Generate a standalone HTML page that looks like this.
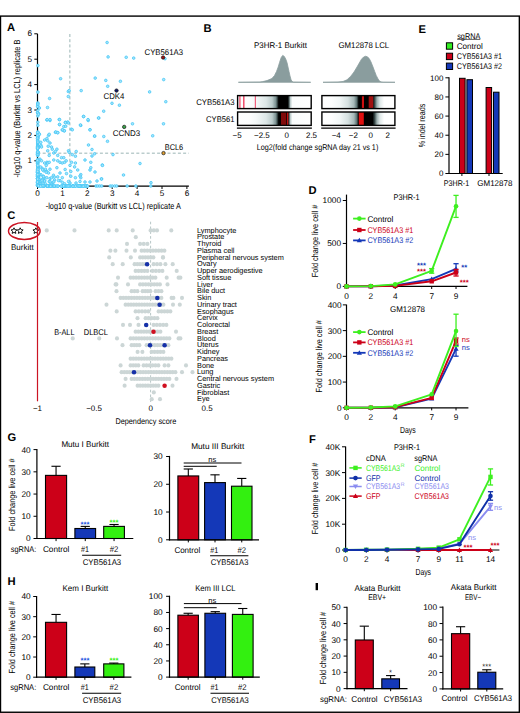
<!DOCTYPE html>
<html><head><meta charset="utf-8"><title>Figure</title>
<style>
html,body{margin:0;padding:0;background:#fff;}
svg{display:block;}
text{font-family:"Liberation Sans",sans-serif;text-rendering:geometricPrecision;}
</style></head><body>
<svg width="520" height="713" viewBox="0 0 520 713">
<rect x="0" y="0" width="520" height="713" fill="#fff"/>
<rect x="0.5" y="16.1" width="518.85" height="696.15" fill="none" stroke="#000" stroke-width="1.4"/>
<text x="7.00" y="31.26" font-size="11.2" font-weight="bold" fill="#000">A</text>
<text x="203.60" y="32.36" font-size="11.2" font-weight="bold" fill="#000">B</text>
<text x="7.20" y="218.96" font-size="11.2" font-weight="bold" fill="#000">C</text>
<text x="308.40" y="194.46" font-size="11.2" font-weight="bold" fill="#000">D</text>
<text x="418.60" y="32.66" font-size="11.2" font-weight="bold" fill="#000">E</text>
<text x="309.00" y="442.76" font-size="11.2" font-weight="bold" fill="#000">F</text>
<text x="7.60" y="440.76" font-size="11.2" font-weight="bold" fill="#000">G</text>
<text x="7.60" y="585.46" font-size="11.2" font-weight="bold" fill="#000">H</text>
<rect x="315.6" y="583" width="2.4" height="7.2" fill="#000"/>
<line x1="69.87" y1="34.00" x2="69.87" y2="186.00" stroke="#8fadad" stroke-width="0.9" stroke-dasharray="3,2.2"/>
<line x1="37.50" y1="153.18" x2="188.80" y2="153.18" stroke="#8fadad" stroke-width="0.9" stroke-dasharray="3,2.2"/>
<line x1="37.50" y1="33.80" x2="37.50" y2="186.80" stroke="#000" stroke-width="1.2" />
<line x1="36.90" y1="186.20" x2="188.90" y2="186.20" stroke="#000" stroke-width="1.2" />
<line x1="34.30" y1="160.80" x2="37.50" y2="160.80" stroke="#000" stroke-width="1.0" />
<text x="32.00" y="163.35" font-size="8.19" text-anchor="end">1</text>
<line x1="34.30" y1="135.40" x2="37.50" y2="135.40" stroke="#000" stroke-width="1.0" />
<text x="32.00" y="137.95" font-size="8.19" text-anchor="end">2</text>
<line x1="34.30" y1="110.00" x2="37.50" y2="110.00" stroke="#000" stroke-width="1.0" />
<text x="32.00" y="112.55" font-size="8.19" text-anchor="end">3</text>
<line x1="34.30" y1="84.60" x2="37.50" y2="84.60" stroke="#000" stroke-width="1.0" />
<text x="32.00" y="87.15" font-size="8.19" text-anchor="end">4</text>
<line x1="34.30" y1="59.20" x2="37.50" y2="59.20" stroke="#000" stroke-width="1.0" />
<text x="32.00" y="61.75" font-size="8.19" text-anchor="end">5</text>
<line x1="34.30" y1="33.80" x2="37.50" y2="33.80" stroke="#000" stroke-width="1.0" />
<text x="32.00" y="36.35" font-size="8.19" text-anchor="end">6</text>
<line x1="37.50" y1="186.20" x2="37.50" y2="189.00" stroke="#000" stroke-width="1.0" />
<text x="37.50" y="195.95" font-size="8.19" text-anchor="middle">0</text>
<line x1="62.40" y1="186.20" x2="62.40" y2="189.00" stroke="#000" stroke-width="1.0" />
<text x="62.40" y="195.95" font-size="8.19" text-anchor="middle">1</text>
<line x1="87.30" y1="186.20" x2="87.30" y2="189.00" stroke="#000" stroke-width="1.0" />
<text x="87.30" y="195.95" font-size="8.19" text-anchor="middle">2</text>
<line x1="112.20" y1="186.20" x2="112.20" y2="189.00" stroke="#000" stroke-width="1.0" />
<text x="112.20" y="195.95" font-size="8.19" text-anchor="middle">3</text>
<line x1="137.10" y1="186.20" x2="137.10" y2="189.00" stroke="#000" stroke-width="1.0" />
<text x="137.10" y="195.95" font-size="8.19" text-anchor="middle">4</text>
<line x1="162.00" y1="186.20" x2="162.00" y2="189.00" stroke="#000" stroke-width="1.0" />
<text x="162.00" y="195.95" font-size="8.19" text-anchor="middle">5</text>
<line x1="186.90" y1="186.20" x2="186.90" y2="189.00" stroke="#000" stroke-width="1.0" />
<text x="186.90" y="195.95" font-size="8.19" text-anchor="middle">6</text>
<text x="45.80" y="209.38" font-size="8.82" textLength="135" lengthAdjust="spacingAndGlyphs">-log10 q-value (Burkitt vs LCL) replicate A</text>
<text transform="translate(16.80,108.50) rotate(-90)" x="0" y="3.18" font-size="8.82" text-anchor="middle" textLength="138" lengthAdjust="spacingAndGlyphs">-log10 q-value (Burkitt vs LCL) replicate B</text>
<circle cx="38.50" cy="113.80" r="1.3" fill="#a6e5fa" stroke="#45c8f7" stroke-width="0.8"/>
<circle cx="46.90" cy="120.00" r="1.3" fill="#a6e5fa" stroke="#45c8f7" stroke-width="0.8"/>
<circle cx="50.00" cy="120.50" r="1.3" fill="#a6e5fa" stroke="#45c8f7" stroke-width="0.8"/>
<circle cx="59.20" cy="119.50" r="1.3" fill="#a6e5fa" stroke="#45c8f7" stroke-width="0.8"/>
<circle cx="59.50" cy="124.60" r="1.3" fill="#a6e5fa" stroke="#45c8f7" stroke-width="0.8"/>
<circle cx="65.40" cy="122.30" r="1.3" fill="#a6e5fa" stroke="#45c8f7" stroke-width="0.8"/>
<circle cx="67.70" cy="122.00" r="1.3" fill="#a6e5fa" stroke="#45c8f7" stroke-width="0.8"/>
<circle cx="63.80" cy="126.60" r="1.3" fill="#a6e5fa" stroke="#45c8f7" stroke-width="0.8"/>
<circle cx="65.70" cy="126.20" r="1.3" fill="#a6e5fa" stroke="#45c8f7" stroke-width="0.8"/>
<circle cx="62.30" cy="130.00" r="1.3" fill="#a6e5fa" stroke="#45c8f7" stroke-width="0.8"/>
<circle cx="64.20" cy="130.80" r="1.3" fill="#a6e5fa" stroke="#45c8f7" stroke-width="0.8"/>
<circle cx="55.40" cy="132.30" r="1.3" fill="#a6e5fa" stroke="#45c8f7" stroke-width="0.8"/>
<circle cx="57.70" cy="132.60" r="1.3" fill="#a6e5fa" stroke="#45c8f7" stroke-width="0.8"/>
<circle cx="71.50" cy="129.20" r="1.3" fill="#a6e5fa" stroke="#45c8f7" stroke-width="0.8"/>
<circle cx="80.80" cy="125.40" r="1.3" fill="#a6e5fa" stroke="#45c8f7" stroke-width="0.8"/>
<circle cx="83.50" cy="116.50" r="1.3" fill="#a6e5fa" stroke="#45c8f7" stroke-width="0.8"/>
<circle cx="88.20" cy="120.50" r="1.3" fill="#a6e5fa" stroke="#45c8f7" stroke-width="0.8"/>
<circle cx="98.80" cy="118.00" r="1.3" fill="#a6e5fa" stroke="#45c8f7" stroke-width="0.8"/>
<circle cx="90.00" cy="129.70" r="1.3" fill="#a6e5fa" stroke="#45c8f7" stroke-width="0.8"/>
<circle cx="94.60" cy="136.20" r="1.3" fill="#a6e5fa" stroke="#45c8f7" stroke-width="0.8"/>
<circle cx="39.20" cy="134.30" r="1.3" fill="#a6e5fa" stroke="#45c8f7" stroke-width="0.8"/>
<circle cx="40.80" cy="142.30" r="1.3" fill="#a6e5fa" stroke="#45c8f7" stroke-width="0.8"/>
<circle cx="41.00" cy="145.40" r="1.3" fill="#a6e5fa" stroke="#45c8f7" stroke-width="0.8"/>
<circle cx="41.50" cy="147.00" r="1.3" fill="#a6e5fa" stroke="#45c8f7" stroke-width="0.8"/>
<circle cx="44.60" cy="140.00" r="1.3" fill="#a6e5fa" stroke="#45c8f7" stroke-width="0.8"/>
<circle cx="46.90" cy="138.50" r="1.3" fill="#a6e5fa" stroke="#45c8f7" stroke-width="0.8"/>
<circle cx="48.50" cy="135.40" r="1.3" fill="#a6e5fa" stroke="#45c8f7" stroke-width="0.8"/>
<circle cx="49.20" cy="134.30" r="1.3" fill="#a6e5fa" stroke="#45c8f7" stroke-width="0.8"/>
<circle cx="47.70" cy="140.80" r="1.3" fill="#a6e5fa" stroke="#45c8f7" stroke-width="0.8"/>
<circle cx="50.00" cy="143.00" r="1.3" fill="#a6e5fa" stroke="#45c8f7" stroke-width="0.8"/>
<circle cx="48.20" cy="146.20" r="1.3" fill="#a6e5fa" stroke="#45c8f7" stroke-width="0.8"/>
<circle cx="51.50" cy="147.00" r="1.3" fill="#a6e5fa" stroke="#45c8f7" stroke-width="0.8"/>
<circle cx="52.30" cy="149.20" r="1.3" fill="#a6e5fa" stroke="#45c8f7" stroke-width="0.8"/>
<circle cx="47.70" cy="150.80" r="1.3" fill="#a6e5fa" stroke="#45c8f7" stroke-width="0.8"/>
<circle cx="49.20" cy="155.40" r="1.3" fill="#a6e5fa" stroke="#45c8f7" stroke-width="0.8"/>
<circle cx="53.80" cy="153.00" r="1.3" fill="#a6e5fa" stroke="#45c8f7" stroke-width="0.8"/>
<circle cx="55.40" cy="151.50" r="1.3" fill="#a6e5fa" stroke="#45c8f7" stroke-width="0.8"/>
<circle cx="56.90" cy="149.20" r="1.3" fill="#a6e5fa" stroke="#45c8f7" stroke-width="0.8"/>
<circle cx="57.70" cy="155.40" r="1.3" fill="#a6e5fa" stroke="#45c8f7" stroke-width="0.8"/>
<circle cx="61.50" cy="157.70" r="1.3" fill="#a6e5fa" stroke="#45c8f7" stroke-width="0.8"/>
<circle cx="68.50" cy="150.80" r="1.3" fill="#a6e5fa" stroke="#45c8f7" stroke-width="0.8"/>
<circle cx="69.20" cy="152.30" r="1.3" fill="#a6e5fa" stroke="#45c8f7" stroke-width="0.8"/>
<circle cx="72.30" cy="154.60" r="1.3" fill="#a6e5fa" stroke="#45c8f7" stroke-width="0.8"/>
<circle cx="76.20" cy="151.50" r="1.3" fill="#a6e5fa" stroke="#45c8f7" stroke-width="0.8"/>
<circle cx="75.40" cy="156.20" r="1.3" fill="#a6e5fa" stroke="#45c8f7" stroke-width="0.8"/>
<circle cx="94.60" cy="153.80" r="1.3" fill="#a6e5fa" stroke="#45c8f7" stroke-width="0.8"/>
<circle cx="40.00" cy="159.20" r="1.3" fill="#a6e5fa" stroke="#45c8f7" stroke-width="0.8"/>
<circle cx="41.50" cy="160.80" r="1.3" fill="#a6e5fa" stroke="#45c8f7" stroke-width="0.8"/>
<circle cx="44.60" cy="163.00" r="1.3" fill="#a6e5fa" stroke="#45c8f7" stroke-width="0.8"/>
<circle cx="46.20" cy="165.40" r="1.3" fill="#a6e5fa" stroke="#45c8f7" stroke-width="0.8"/>
<circle cx="46.90" cy="162.30" r="1.3" fill="#a6e5fa" stroke="#45c8f7" stroke-width="0.8"/>
<circle cx="47.70" cy="163.00" r="1.3" fill="#a6e5fa" stroke="#45c8f7" stroke-width="0.8"/>
<circle cx="49.20" cy="162.30" r="1.3" fill="#a6e5fa" stroke="#45c8f7" stroke-width="0.8"/>
<circle cx="53.80" cy="160.00" r="1.3" fill="#a6e5fa" stroke="#45c8f7" stroke-width="0.8"/>
<circle cx="57.70" cy="160.80" r="1.3" fill="#a6e5fa" stroke="#45c8f7" stroke-width="0.8"/>
<circle cx="60.00" cy="162.30" r="1.3" fill="#a6e5fa" stroke="#45c8f7" stroke-width="0.8"/>
<circle cx="62.30" cy="163.00" r="1.3" fill="#a6e5fa" stroke="#45c8f7" stroke-width="0.8"/>
<circle cx="64.60" cy="162.30" r="1.3" fill="#a6e5fa" stroke="#45c8f7" stroke-width="0.8"/>
<circle cx="66.20" cy="160.80" r="1.3" fill="#a6e5fa" stroke="#45c8f7" stroke-width="0.8"/>
<circle cx="63.80" cy="157.70" r="1.3" fill="#a6e5fa" stroke="#45c8f7" stroke-width="0.8"/>
<circle cx="70.00" cy="165.40" r="1.3" fill="#a6e5fa" stroke="#45c8f7" stroke-width="0.8"/>
<circle cx="71.50" cy="162.30" r="1.3" fill="#a6e5fa" stroke="#45c8f7" stroke-width="0.8"/>
<circle cx="74.60" cy="166.90" r="1.3" fill="#a6e5fa" stroke="#45c8f7" stroke-width="0.8"/>
<circle cx="75.40" cy="163.00" r="1.3" fill="#a6e5fa" stroke="#45c8f7" stroke-width="0.8"/>
<circle cx="56.90" cy="167.70" r="1.3" fill="#a6e5fa" stroke="#45c8f7" stroke-width="0.8"/>
<circle cx="90.80" cy="162.30" r="1.3" fill="#a6e5fa" stroke="#45c8f7" stroke-width="0.8"/>
<circle cx="90.80" cy="167.70" r="1.3" fill="#a6e5fa" stroke="#45c8f7" stroke-width="0.8"/>
<circle cx="102.30" cy="165.00" r="1.3" fill="#a6e5fa" stroke="#45c8f7" stroke-width="0.8"/>
<circle cx="42.30" cy="168.50" r="1.3" fill="#a6e5fa" stroke="#45c8f7" stroke-width="0.8"/>
<circle cx="43.80" cy="170.80" r="1.3" fill="#a6e5fa" stroke="#45c8f7" stroke-width="0.8"/>
<circle cx="45.40" cy="169.20" r="1.3" fill="#a6e5fa" stroke="#45c8f7" stroke-width="0.8"/>
<circle cx="46.90" cy="171.50" r="1.3" fill="#a6e5fa" stroke="#45c8f7" stroke-width="0.8"/>
<circle cx="48.50" cy="173.00" r="1.3" fill="#a6e5fa" stroke="#45c8f7" stroke-width="0.8"/>
<circle cx="40.80" cy="174.60" r="1.3" fill="#a6e5fa" stroke="#45c8f7" stroke-width="0.8"/>
<circle cx="43.10" cy="176.20" r="1.3" fill="#a6e5fa" stroke="#45c8f7" stroke-width="0.8"/>
<circle cx="50.00" cy="169.20" r="1.3" fill="#a6e5fa" stroke="#45c8f7" stroke-width="0.8"/>
<circle cx="60.00" cy="173.00" r="1.3" fill="#a6e5fa" stroke="#45c8f7" stroke-width="0.8"/>
<circle cx="57.70" cy="176.90" r="1.3" fill="#a6e5fa" stroke="#45c8f7" stroke-width="0.8"/>
<circle cx="62.30" cy="177.70" r="1.3" fill="#a6e5fa" stroke="#45c8f7" stroke-width="0.8"/>
<circle cx="70.80" cy="171.50" r="1.3" fill="#a6e5fa" stroke="#45c8f7" stroke-width="0.8"/>
<circle cx="70.80" cy="176.20" r="1.3" fill="#a6e5fa" stroke="#45c8f7" stroke-width="0.8"/>
<circle cx="75.40" cy="177.70" r="1.3" fill="#a6e5fa" stroke="#45c8f7" stroke-width="0.8"/>
<circle cx="77.70" cy="170.00" r="1.3" fill="#a6e5fa" stroke="#45c8f7" stroke-width="0.8"/>
<circle cx="80.80" cy="174.60" r="1.3" fill="#a6e5fa" stroke="#45c8f7" stroke-width="0.8"/>
<circle cx="80.80" cy="177.70" r="1.3" fill="#a6e5fa" stroke="#45c8f7" stroke-width="0.8"/>
<circle cx="80.00" cy="181.50" r="1.3" fill="#a6e5fa" stroke="#45c8f7" stroke-width="0.8"/>
<circle cx="40.00" cy="180.00" r="1.3" fill="#a6e5fa" stroke="#45c8f7" stroke-width="0.8"/>
<circle cx="42.30" cy="182.30" r="1.3" fill="#a6e5fa" stroke="#45c8f7" stroke-width="0.8"/>
<circle cx="44.60" cy="180.80" r="1.3" fill="#a6e5fa" stroke="#45c8f7" stroke-width="0.8"/>
<circle cx="45.40" cy="183.80" r="1.3" fill="#a6e5fa" stroke="#45c8f7" stroke-width="0.8"/>
<circle cx="49.20" cy="181.50" r="1.3" fill="#a6e5fa" stroke="#45c8f7" stroke-width="0.8"/>
<circle cx="53.10" cy="182.30" r="1.3" fill="#a6e5fa" stroke="#45c8f7" stroke-width="0.8"/>
<circle cx="54.60" cy="180.00" r="1.3" fill="#a6e5fa" stroke="#45c8f7" stroke-width="0.8"/>
<circle cx="50.00" cy="178.50" r="1.3" fill="#a6e5fa" stroke="#45c8f7" stroke-width="0.8"/>
<circle cx="51.50" cy="177.70" r="1.3" fill="#a6e5fa" stroke="#45c8f7" stroke-width="0.8"/>
<circle cx="62.30" cy="182.30" r="1.3" fill="#a6e5fa" stroke="#45c8f7" stroke-width="0.8"/>
<circle cx="64.60" cy="183.80" r="1.3" fill="#a6e5fa" stroke="#45c8f7" stroke-width="0.8"/>
<circle cx="68.50" cy="181.50" r="1.3" fill="#a6e5fa" stroke="#45c8f7" stroke-width="0.8"/>
<circle cx="70.00" cy="183.00" r="1.3" fill="#a6e5fa" stroke="#45c8f7" stroke-width="0.8"/>
<circle cx="101.50" cy="178.90" r="1.3" fill="#a6e5fa" stroke="#45c8f7" stroke-width="0.8"/>
<circle cx="90.00" cy="182.00" r="1.3" fill="#a6e5fa" stroke="#45c8f7" stroke-width="0.8"/>
<circle cx="42.75" cy="178.91" r="1.3" fill="#a6e5fa" stroke="#45c8f7" stroke-width="0.8"/>
<circle cx="59.98" cy="180.63" r="1.3" fill="#a6e5fa" stroke="#45c8f7" stroke-width="0.8"/>
<circle cx="43.68" cy="178.33" r="1.3" fill="#a6e5fa" stroke="#45c8f7" stroke-width="0.8"/>
<circle cx="39.28" cy="179.82" r="1.3" fill="#a6e5fa" stroke="#45c8f7" stroke-width="0.8"/>
<circle cx="46.16" cy="172.20" r="1.3" fill="#a6e5fa" stroke="#45c8f7" stroke-width="0.8"/>
<circle cx="38.36" cy="182.99" r="1.3" fill="#a6e5fa" stroke="#45c8f7" stroke-width="0.8"/>
<circle cx="38.33" cy="171.45" r="1.3" fill="#a6e5fa" stroke="#45c8f7" stroke-width="0.8"/>
<circle cx="47.80" cy="185.82" r="1.3" fill="#a6e5fa" stroke="#45c8f7" stroke-width="0.8"/>
<circle cx="46.75" cy="177.70" r="1.3" fill="#a6e5fa" stroke="#45c8f7" stroke-width="0.8"/>
<circle cx="38.99" cy="186.07" r="1.3" fill="#a6e5fa" stroke="#45c8f7" stroke-width="0.8"/>
<circle cx="44.05" cy="185.65" r="1.3" fill="#a6e5fa" stroke="#45c8f7" stroke-width="0.8"/>
<circle cx="39.34" cy="183.74" r="1.3" fill="#a6e5fa" stroke="#45c8f7" stroke-width="0.8"/>
<circle cx="37.77" cy="180.66" r="1.3" fill="#a6e5fa" stroke="#45c8f7" stroke-width="0.8"/>
<circle cx="42.56" cy="169.77" r="1.3" fill="#a6e5fa" stroke="#45c8f7" stroke-width="0.8"/>
<circle cx="43.88" cy="177.11" r="1.3" fill="#a6e5fa" stroke="#45c8f7" stroke-width="0.8"/>
<circle cx="43.54" cy="176.55" r="1.3" fill="#a6e5fa" stroke="#45c8f7" stroke-width="0.8"/>
<circle cx="42.83" cy="183.30" r="1.3" fill="#a6e5fa" stroke="#45c8f7" stroke-width="0.8"/>
<circle cx="53.48" cy="175.26" r="1.3" fill="#a6e5fa" stroke="#45c8f7" stroke-width="0.8"/>
<circle cx="40.80" cy="183.88" r="1.3" fill="#a6e5fa" stroke="#45c8f7" stroke-width="0.8"/>
<circle cx="40.47" cy="185.55" r="1.3" fill="#a6e5fa" stroke="#45c8f7" stroke-width="0.8"/>
<circle cx="50.17" cy="181.65" r="1.3" fill="#a6e5fa" stroke="#45c8f7" stroke-width="0.8"/>
<circle cx="53.84" cy="181.86" r="1.3" fill="#a6e5fa" stroke="#45c8f7" stroke-width="0.8"/>
<circle cx="65.14" cy="169.49" r="1.3" fill="#a6e5fa" stroke="#45c8f7" stroke-width="0.8"/>
<circle cx="37.50" cy="184.11" r="1.3" fill="#a6e5fa" stroke="#45c8f7" stroke-width="0.8"/>
<circle cx="58.51" cy="180.56" r="1.3" fill="#a6e5fa" stroke="#45c8f7" stroke-width="0.8"/>
<circle cx="38.16" cy="177.37" r="1.3" fill="#a6e5fa" stroke="#45c8f7" stroke-width="0.8"/>
<circle cx="50.64" cy="183.40" r="1.3" fill="#a6e5fa" stroke="#45c8f7" stroke-width="0.8"/>
<circle cx="38.29" cy="182.61" r="1.3" fill="#a6e5fa" stroke="#45c8f7" stroke-width="0.8"/>
<circle cx="66.49" cy="173.59" r="1.3" fill="#a6e5fa" stroke="#45c8f7" stroke-width="0.8"/>
<circle cx="38.59" cy="183.69" r="1.3" fill="#a6e5fa" stroke="#45c8f7" stroke-width="0.8"/>
<circle cx="38.43" cy="185.65" r="1.3" fill="#a6e5fa" stroke="#45c8f7" stroke-width="0.8"/>
<circle cx="51.40" cy="184.46" r="1.3" fill="#a6e5fa" stroke="#45c8f7" stroke-width="0.8"/>
<circle cx="44.64" cy="180.93" r="1.3" fill="#a6e5fa" stroke="#45c8f7" stroke-width="0.8"/>
<circle cx="39.34" cy="174.50" r="1.3" fill="#a6e5fa" stroke="#45c8f7" stroke-width="0.8"/>
<circle cx="38.72" cy="177.03" r="1.3" fill="#a6e5fa" stroke="#45c8f7" stroke-width="0.8"/>
<circle cx="38.58" cy="181.35" r="1.3" fill="#a6e5fa" stroke="#45c8f7" stroke-width="0.8"/>
<circle cx="39.59" cy="183.40" r="1.3" fill="#a6e5fa" stroke="#45c8f7" stroke-width="0.8"/>
<circle cx="40.66" cy="166.98" r="1.3" fill="#a6e5fa" stroke="#45c8f7" stroke-width="0.8"/>
<circle cx="39.56" cy="181.74" r="1.3" fill="#a6e5fa" stroke="#45c8f7" stroke-width="0.8"/>
<circle cx="54.29" cy="177.07" r="1.3" fill="#a6e5fa" stroke="#45c8f7" stroke-width="0.8"/>
<circle cx="37.57" cy="174.55" r="1.3" fill="#a6e5fa" stroke="#45c8f7" stroke-width="0.8"/>
<circle cx="37.60" cy="144.00" r="1.3" fill="#a6e5fa" stroke="#45c8f7" stroke-width="0.8"/>
<circle cx="37.48" cy="170.02" r="1.3" fill="#a6e5fa" stroke="#45c8f7" stroke-width="0.8"/>
<circle cx="37.71" cy="181.28" r="1.3" fill="#a6e5fa" stroke="#45c8f7" stroke-width="0.8"/>
<circle cx="37.72" cy="172.93" r="1.3" fill="#a6e5fa" stroke="#45c8f7" stroke-width="0.8"/>
<circle cx="37.65" cy="165.90" r="1.3" fill="#a6e5fa" stroke="#45c8f7" stroke-width="0.8"/>
<circle cx="37.67" cy="133.82" r="1.3" fill="#a6e5fa" stroke="#45c8f7" stroke-width="0.8"/>
<circle cx="37.84" cy="154.82" r="1.3" fill="#a6e5fa" stroke="#45c8f7" stroke-width="0.8"/>
<circle cx="37.52" cy="176.22" r="1.3" fill="#a6e5fa" stroke="#45c8f7" stroke-width="0.8"/>
<circle cx="37.82" cy="136.59" r="1.3" fill="#a6e5fa" stroke="#45c8f7" stroke-width="0.8"/>
<circle cx="37.54" cy="172.57" r="1.3" fill="#a6e5fa" stroke="#45c8f7" stroke-width="0.8"/>
<circle cx="37.87" cy="145.82" r="1.3" fill="#a6e5fa" stroke="#45c8f7" stroke-width="0.8"/>
<circle cx="37.88" cy="175.46" r="1.3" fill="#a6e5fa" stroke="#45c8f7" stroke-width="0.8"/>
<circle cx="37.72" cy="138.02" r="1.3" fill="#a6e5fa" stroke="#45c8f7" stroke-width="0.8"/>
<circle cx="37.50" cy="163.18" r="1.3" fill="#a6e5fa" stroke="#45c8f7" stroke-width="0.8"/>
<circle cx="37.88" cy="184.09" r="1.3" fill="#a6e5fa" stroke="#45c8f7" stroke-width="0.8"/>
<circle cx="37.77" cy="173.18" r="1.3" fill="#a6e5fa" stroke="#45c8f7" stroke-width="0.8"/>
<circle cx="37.82" cy="172.17" r="1.3" fill="#a6e5fa" stroke="#45c8f7" stroke-width="0.8"/>
<circle cx="37.58" cy="153.63" r="1.3" fill="#a6e5fa" stroke="#45c8f7" stroke-width="0.8"/>
<circle cx="37.77" cy="176.62" r="1.3" fill="#a6e5fa" stroke="#45c8f7" stroke-width="0.8"/>
<circle cx="37.55" cy="182.44" r="1.3" fill="#a6e5fa" stroke="#45c8f7" stroke-width="0.8"/>
<circle cx="37.83" cy="155.65" r="1.3" fill="#a6e5fa" stroke="#45c8f7" stroke-width="0.8"/>
<circle cx="37.58" cy="152.65" r="1.3" fill="#a6e5fa" stroke="#45c8f7" stroke-width="0.8"/>
<circle cx="37.54" cy="136.10" r="1.3" fill="#a6e5fa" stroke="#45c8f7" stroke-width="0.8"/>
<circle cx="37.57" cy="185.29" r="1.3" fill="#a6e5fa" stroke="#45c8f7" stroke-width="0.8"/>
<circle cx="37.48" cy="161.86" r="1.3" fill="#a6e5fa" stroke="#45c8f7" stroke-width="0.8"/>
<circle cx="37.62" cy="176.57" r="1.3" fill="#a6e5fa" stroke="#45c8f7" stroke-width="0.8"/>
<circle cx="37.51" cy="154.95" r="1.3" fill="#a6e5fa" stroke="#45c8f7" stroke-width="0.8"/>
<circle cx="37.85" cy="166.42" r="1.3" fill="#a6e5fa" stroke="#45c8f7" stroke-width="0.8"/>
<circle cx="37.75" cy="132.66" r="1.3" fill="#a6e5fa" stroke="#45c8f7" stroke-width="0.8"/>
<circle cx="37.71" cy="148.45" r="1.3" fill="#a6e5fa" stroke="#45c8f7" stroke-width="0.8"/>
<circle cx="37.47" cy="178.54" r="1.3" fill="#a6e5fa" stroke="#45c8f7" stroke-width="0.8"/>
<circle cx="37.86" cy="185.22" r="1.3" fill="#a6e5fa" stroke="#45c8f7" stroke-width="0.8"/>
<circle cx="37.88" cy="147.92" r="1.3" fill="#a6e5fa" stroke="#45c8f7" stroke-width="0.8"/>
<circle cx="37.74" cy="185.04" r="1.3" fill="#a6e5fa" stroke="#45c8f7" stroke-width="0.8"/>
<circle cx="37.78" cy="159.87" r="1.3" fill="#a6e5fa" stroke="#45c8f7" stroke-width="0.8"/>
<circle cx="37.90" cy="168.78" r="1.3" fill="#a6e5fa" stroke="#45c8f7" stroke-width="0.8"/>
<circle cx="37.70" cy="182.09" r="1.3" fill="#a6e5fa" stroke="#45c8f7" stroke-width="0.8"/>
<circle cx="37.86" cy="145.95" r="1.3" fill="#a6e5fa" stroke="#45c8f7" stroke-width="0.8"/>
<circle cx="37.77" cy="145.95" r="1.3" fill="#a6e5fa" stroke="#45c8f7" stroke-width="0.8"/>
<circle cx="37.86" cy="142.88" r="1.3" fill="#a6e5fa" stroke="#45c8f7" stroke-width="0.8"/>
<circle cx="37.76" cy="166.99" r="1.3" fill="#a6e5fa" stroke="#45c8f7" stroke-width="0.8"/>
<circle cx="37.84" cy="137.01" r="1.3" fill="#a6e5fa" stroke="#45c8f7" stroke-width="0.8"/>
<circle cx="37.81" cy="163.42" r="1.3" fill="#a6e5fa" stroke="#45c8f7" stroke-width="0.8"/>
<circle cx="37.71" cy="139.05" r="1.3" fill="#a6e5fa" stroke="#45c8f7" stroke-width="0.8"/>
<circle cx="37.62" cy="152.07" r="1.3" fill="#a6e5fa" stroke="#45c8f7" stroke-width="0.8"/>
<circle cx="37.72" cy="154.38" r="1.3" fill="#a6e5fa" stroke="#45c8f7" stroke-width="0.8"/>
<circle cx="37.74" cy="181.82" r="1.3" fill="#a6e5fa" stroke="#45c8f7" stroke-width="0.8"/>
<circle cx="37.85" cy="131.95" r="1.3" fill="#a6e5fa" stroke="#45c8f7" stroke-width="0.8"/>
<circle cx="37.62" cy="146.43" r="1.3" fill="#a6e5fa" stroke="#45c8f7" stroke-width="0.8"/>
<circle cx="37.71" cy="146.06" r="1.3" fill="#a6e5fa" stroke="#45c8f7" stroke-width="0.8"/>
<circle cx="37.83" cy="162.14" r="1.3" fill="#a6e5fa" stroke="#45c8f7" stroke-width="0.8"/>
<circle cx="37.79" cy="181.62" r="1.3" fill="#a6e5fa" stroke="#45c8f7" stroke-width="0.8"/>
<circle cx="37.72" cy="184.57" r="1.3" fill="#a6e5fa" stroke="#45c8f7" stroke-width="0.8"/>
<circle cx="37.55" cy="159.93" r="1.3" fill="#a6e5fa" stroke="#45c8f7" stroke-width="0.8"/>
<circle cx="37.67" cy="148.06" r="1.3" fill="#a6e5fa" stroke="#45c8f7" stroke-width="0.8"/>
<circle cx="37.86" cy="152.64" r="1.3" fill="#a6e5fa" stroke="#45c8f7" stroke-width="0.8"/>
<circle cx="37.46" cy="172.23" r="1.3" fill="#a6e5fa" stroke="#45c8f7" stroke-width="0.8"/>
<circle cx="37.76" cy="169.76" r="1.3" fill="#a6e5fa" stroke="#45c8f7" stroke-width="0.8"/>
<circle cx="37.53" cy="175.14" r="1.3" fill="#a6e5fa" stroke="#45c8f7" stroke-width="0.8"/>
<circle cx="37.75" cy="136.74" r="1.3" fill="#a6e5fa" stroke="#45c8f7" stroke-width="0.8"/>
<circle cx="37.85" cy="162.07" r="1.3" fill="#a6e5fa" stroke="#45c8f7" stroke-width="0.8"/>
<circle cx="37.75" cy="168.34" r="1.3" fill="#a6e5fa" stroke="#45c8f7" stroke-width="0.8"/>
<circle cx="37.64" cy="175.36" r="1.3" fill="#a6e5fa" stroke="#45c8f7" stroke-width="0.8"/>
<circle cx="37.86" cy="142.18" r="1.3" fill="#a6e5fa" stroke="#45c8f7" stroke-width="0.8"/>
<circle cx="37.62" cy="138.13" r="1.3" fill="#a6e5fa" stroke="#45c8f7" stroke-width="0.8"/>
<circle cx="37.59" cy="154.36" r="1.3" fill="#a6e5fa" stroke="#45c8f7" stroke-width="0.8"/>
<circle cx="37.67" cy="178.76" r="1.3" fill="#a6e5fa" stroke="#45c8f7" stroke-width="0.8"/>
<circle cx="37.83" cy="140.49" r="1.3" fill="#a6e5fa" stroke="#45c8f7" stroke-width="0.8"/>
<circle cx="37.88" cy="147.36" r="1.3" fill="#a6e5fa" stroke="#45c8f7" stroke-width="0.8"/>
<circle cx="37.53" cy="171.08" r="1.3" fill="#a6e5fa" stroke="#45c8f7" stroke-width="0.8"/>
<circle cx="37.57" cy="161.59" r="1.3" fill="#a6e5fa" stroke="#45c8f7" stroke-width="0.8"/>
<circle cx="37.64" cy="174.51" r="1.3" fill="#a6e5fa" stroke="#45c8f7" stroke-width="0.8"/>
<circle cx="37.67" cy="152.03" r="1.3" fill="#a6e5fa" stroke="#45c8f7" stroke-width="0.8"/>
<circle cx="37.83" cy="168.98" r="1.3" fill="#a6e5fa" stroke="#45c8f7" stroke-width="0.8"/>
<circle cx="37.65" cy="132.57" r="1.3" fill="#a6e5fa" stroke="#45c8f7" stroke-width="0.8"/>
<circle cx="37.46" cy="182.12" r="1.3" fill="#a6e5fa" stroke="#45c8f7" stroke-width="0.8"/>
<circle cx="37.47" cy="138.53" r="1.3" fill="#a6e5fa" stroke="#45c8f7" stroke-width="0.8"/>
<circle cx="37.71" cy="147.50" r="1.3" fill="#a6e5fa" stroke="#45c8f7" stroke-width="0.8"/>
<circle cx="37.81" cy="169.32" r="1.3" fill="#a6e5fa" stroke="#45c8f7" stroke-width="0.8"/>
<circle cx="37.51" cy="185.16" r="1.3" fill="#a6e5fa" stroke="#45c8f7" stroke-width="0.8"/>
<circle cx="37.46" cy="161.36" r="1.3" fill="#a6e5fa" stroke="#45c8f7" stroke-width="0.8"/>
<circle cx="37.56" cy="140.89" r="1.3" fill="#a6e5fa" stroke="#45c8f7" stroke-width="0.8"/>
<circle cx="37.47" cy="178.51" r="1.3" fill="#a6e5fa" stroke="#45c8f7" stroke-width="0.8"/>
<circle cx="37.65" cy="151.84" r="1.3" fill="#a6e5fa" stroke="#45c8f7" stroke-width="0.8"/>
<circle cx="37.74" cy="151.80" r="1.3" fill="#a6e5fa" stroke="#45c8f7" stroke-width="0.8"/>
<circle cx="37.88" cy="142.11" r="1.3" fill="#a6e5fa" stroke="#45c8f7" stroke-width="0.8"/>
<circle cx="37.54" cy="148.82" r="1.3" fill="#a6e5fa" stroke="#45c8f7" stroke-width="0.8"/>
<circle cx="37.53" cy="160.25" r="1.3" fill="#a6e5fa" stroke="#45c8f7" stroke-width="0.8"/>
<circle cx="37.66" cy="185.61" r="1.3" fill="#a6e5fa" stroke="#45c8f7" stroke-width="0.8"/>
<circle cx="37.53" cy="147.20" r="1.3" fill="#a6e5fa" stroke="#45c8f7" stroke-width="0.8"/>
<circle cx="37.61" cy="171.33" r="1.3" fill="#a6e5fa" stroke="#45c8f7" stroke-width="0.8"/>
<circle cx="37.68" cy="148.12" r="1.3" fill="#a6e5fa" stroke="#45c8f7" stroke-width="0.8"/>
<circle cx="37.79" cy="152.65" r="1.3" fill="#a6e5fa" stroke="#45c8f7" stroke-width="0.8"/>
<circle cx="37.81" cy="164.71" r="1.3" fill="#a6e5fa" stroke="#45c8f7" stroke-width="0.8"/>
<circle cx="37.49" cy="136.71" r="1.3" fill="#a6e5fa" stroke="#45c8f7" stroke-width="0.8"/>
<circle cx="37.78" cy="135.27" r="1.3" fill="#a6e5fa" stroke="#45c8f7" stroke-width="0.8"/>
<circle cx="37.65" cy="179.11" r="1.3" fill="#a6e5fa" stroke="#45c8f7" stroke-width="0.8"/>
<circle cx="37.86" cy="152.04" r="1.3" fill="#a6e5fa" stroke="#45c8f7" stroke-width="0.8"/>
<circle cx="37.71" cy="165.62" r="1.3" fill="#a6e5fa" stroke="#45c8f7" stroke-width="0.8"/>
<circle cx="37.81" cy="105.91" r="1.3" fill="#a6e5fa" stroke="#45c8f7" stroke-width="0.8"/>
<circle cx="37.66" cy="104.01" r="1.3" fill="#a6e5fa" stroke="#45c8f7" stroke-width="0.8"/>
<circle cx="37.54" cy="112.56" r="1.3" fill="#a6e5fa" stroke="#45c8f7" stroke-width="0.8"/>
<circle cx="37.82" cy="110.50" r="1.3" fill="#a6e5fa" stroke="#45c8f7" stroke-width="0.8"/>
<circle cx="37.77" cy="112.85" r="1.3" fill="#a6e5fa" stroke="#45c8f7" stroke-width="0.8"/>
<circle cx="37.85" cy="125.36" r="1.3" fill="#a6e5fa" stroke="#45c8f7" stroke-width="0.8"/>
<circle cx="37.89" cy="102.95" r="1.3" fill="#a6e5fa" stroke="#45c8f7" stroke-width="0.8"/>
<circle cx="37.81" cy="115.91" r="1.3" fill="#a6e5fa" stroke="#45c8f7" stroke-width="0.8"/>
<circle cx="37.86" cy="122.23" r="1.3" fill="#a6e5fa" stroke="#45c8f7" stroke-width="0.8"/>
<circle cx="37.61" cy="106.59" r="1.3" fill="#a6e5fa" stroke="#45c8f7" stroke-width="0.8"/>
<circle cx="41.73" cy="186.03" r="1.3" fill="#a6e5fa" stroke="#45c8f7" stroke-width="0.8"/>
<circle cx="65.59" cy="186.16" r="1.3" fill="#a6e5fa" stroke="#45c8f7" stroke-width="0.8"/>
<circle cx="62.38" cy="185.86" r="1.3" fill="#a6e5fa" stroke="#45c8f7" stroke-width="0.8"/>
<circle cx="78.80" cy="185.88" r="1.3" fill="#a6e5fa" stroke="#45c8f7" stroke-width="0.8"/>
<circle cx="78.33" cy="185.92" r="1.3" fill="#a6e5fa" stroke="#45c8f7" stroke-width="0.8"/>
<circle cx="54.60" cy="186.17" r="1.3" fill="#a6e5fa" stroke="#45c8f7" stroke-width="0.8"/>
<circle cx="44.67" cy="185.91" r="1.3" fill="#a6e5fa" stroke="#45c8f7" stroke-width="0.8"/>
<circle cx="63.87" cy="186.14" r="1.3" fill="#a6e5fa" stroke="#45c8f7" stroke-width="0.8"/>
<circle cx="80.38" cy="186.13" r="1.3" fill="#a6e5fa" stroke="#45c8f7" stroke-width="0.8"/>
<circle cx="85.78" cy="186.05" r="1.3" fill="#a6e5fa" stroke="#45c8f7" stroke-width="0.8"/>
<circle cx="85.95" cy="185.88" r="1.3" fill="#a6e5fa" stroke="#45c8f7" stroke-width="0.8"/>
<circle cx="48.80" cy="186.06" r="1.3" fill="#a6e5fa" stroke="#45c8f7" stroke-width="0.8"/>
<circle cx="52.31" cy="186.14" r="1.3" fill="#a6e5fa" stroke="#45c8f7" stroke-width="0.8"/>
<circle cx="70.11" cy="186.06" r="1.3" fill="#a6e5fa" stroke="#45c8f7" stroke-width="0.8"/>
<circle cx="80.56" cy="186.07" r="1.3" fill="#a6e5fa" stroke="#45c8f7" stroke-width="0.8"/>
<circle cx="53.41" cy="186.00" r="1.3" fill="#a6e5fa" stroke="#45c8f7" stroke-width="0.8"/>
<circle cx="80.65" cy="186.21" r="1.3" fill="#a6e5fa" stroke="#45c8f7" stroke-width="0.8"/>
<circle cx="48.13" cy="186.19" r="1.3" fill="#a6e5fa" stroke="#45c8f7" stroke-width="0.8"/>
<circle cx="86.93" cy="186.06" r="1.3" fill="#a6e5fa" stroke="#45c8f7" stroke-width="0.8"/>
<circle cx="66.75" cy="185.93" r="1.3" fill="#a6e5fa" stroke="#45c8f7" stroke-width="0.8"/>
<circle cx="64.86" cy="186.05" r="1.3" fill="#a6e5fa" stroke="#45c8f7" stroke-width="0.8"/>
<circle cx="68.39" cy="185.86" r="1.3" fill="#a6e5fa" stroke="#45c8f7" stroke-width="0.8"/>
<circle cx="86.98" cy="186.06" r="1.3" fill="#a6e5fa" stroke="#45c8f7" stroke-width="0.8"/>
<circle cx="57.95" cy="186.17" r="1.3" fill="#a6e5fa" stroke="#45c8f7" stroke-width="0.8"/>
<circle cx="66.23" cy="186.05" r="1.3" fill="#a6e5fa" stroke="#45c8f7" stroke-width="0.8"/>
<circle cx="72.77" cy="185.88" r="1.3" fill="#a6e5fa" stroke="#45c8f7" stroke-width="0.8"/>
<circle cx="65.00" cy="186.02" r="1.3" fill="#a6e5fa" stroke="#45c8f7" stroke-width="0.8"/>
<circle cx="86.34" cy="186.22" r="1.3" fill="#a6e5fa" stroke="#45c8f7" stroke-width="0.8"/>
<circle cx="51.24" cy="186.04" r="1.3" fill="#a6e5fa" stroke="#45c8f7" stroke-width="0.8"/>
<circle cx="43.98" cy="186.02" r="1.3" fill="#a6e5fa" stroke="#45c8f7" stroke-width="0.8"/>
<circle cx="79.14" cy="186.21" r="1.3" fill="#a6e5fa" stroke="#45c8f7" stroke-width="0.8"/>
<circle cx="61.82" cy="185.98" r="1.3" fill="#a6e5fa" stroke="#45c8f7" stroke-width="0.8"/>
<circle cx="47.27" cy="186.10" r="1.3" fill="#a6e5fa" stroke="#45c8f7" stroke-width="0.8"/>
<circle cx="84.73" cy="185.90" r="1.3" fill="#a6e5fa" stroke="#45c8f7" stroke-width="0.8"/>
<circle cx="77.28" cy="185.86" r="1.3" fill="#a6e5fa" stroke="#45c8f7" stroke-width="0.8"/>
<circle cx="47.41" cy="185.94" r="1.3" fill="#a6e5fa" stroke="#45c8f7" stroke-width="0.8"/>
<circle cx="72.57" cy="185.98" r="1.3" fill="#a6e5fa" stroke="#45c8f7" stroke-width="0.8"/>
<circle cx="55.64" cy="186.10" r="1.3" fill="#a6e5fa" stroke="#45c8f7" stroke-width="0.8"/>
<circle cx="42.85" cy="186.14" r="1.3" fill="#a6e5fa" stroke="#45c8f7" stroke-width="0.8"/>
<circle cx="43.77" cy="186.05" r="1.3" fill="#a6e5fa" stroke="#45c8f7" stroke-width="0.8"/>
<circle cx="50.29" cy="185.93" r="1.3" fill="#a6e5fa" stroke="#45c8f7" stroke-width="0.8"/>
<circle cx="64.57" cy="186.02" r="1.3" fill="#a6e5fa" stroke="#45c8f7" stroke-width="0.8"/>
<circle cx="56.68" cy="186.02" r="1.3" fill="#a6e5fa" stroke="#45c8f7" stroke-width="0.8"/>
<circle cx="64.52" cy="185.91" r="1.3" fill="#a6e5fa" stroke="#45c8f7" stroke-width="0.8"/>
<circle cx="47.93" cy="186.10" r="1.3" fill="#a6e5fa" stroke="#45c8f7" stroke-width="0.8"/>
<circle cx="70.09" cy="186.06" r="1.3" fill="#a6e5fa" stroke="#45c8f7" stroke-width="0.8"/>
<circle cx="80.95" cy="186.09" r="1.3" fill="#a6e5fa" stroke="#45c8f7" stroke-width="0.8"/>
<circle cx="81.23" cy="185.94" r="1.3" fill="#a6e5fa" stroke="#45c8f7" stroke-width="0.8"/>
<circle cx="75.31" cy="186.17" r="1.3" fill="#a6e5fa" stroke="#45c8f7" stroke-width="0.8"/>
<circle cx="83.58" cy="185.98" r="1.3" fill="#a6e5fa" stroke="#45c8f7" stroke-width="0.8"/>
<circle cx="53.58" cy="186.22" r="1.3" fill="#a6e5fa" stroke="#45c8f7" stroke-width="0.8"/>
<circle cx="48.64" cy="186.25" r="1.3" fill="#a6e5fa" stroke="#45c8f7" stroke-width="0.8"/>
<circle cx="82.80" cy="185.90" r="1.3" fill="#a6e5fa" stroke="#45c8f7" stroke-width="0.8"/>
<circle cx="49.72" cy="186.14" r="1.3" fill="#a6e5fa" stroke="#45c8f7" stroke-width="0.8"/>
<circle cx="50.75" cy="185.89" r="1.3" fill="#a6e5fa" stroke="#45c8f7" stroke-width="0.8"/>
<circle cx="79.98" cy="186.02" r="1.3" fill="#a6e5fa" stroke="#45c8f7" stroke-width="0.8"/>
<circle cx="77.82" cy="185.90" r="1.3" fill="#a6e5fa" stroke="#45c8f7" stroke-width="0.8"/>
<circle cx="58.06" cy="186.12" r="1.3" fill="#a6e5fa" stroke="#45c8f7" stroke-width="0.8"/>
<circle cx="38.41" cy="185.93" r="1.3" fill="#a6e5fa" stroke="#45c8f7" stroke-width="0.8"/>
<circle cx="72.33" cy="186.21" r="1.3" fill="#a6e5fa" stroke="#45c8f7" stroke-width="0.8"/>
<circle cx="86.93" cy="185.90" r="1.3" fill="#a6e5fa" stroke="#45c8f7" stroke-width="0.8"/>
<circle cx="63.31" cy="186.15" r="1.3" fill="#a6e5fa" stroke="#45c8f7" stroke-width="0.8"/>
<circle cx="63.16" cy="186.12" r="1.3" fill="#a6e5fa" stroke="#45c8f7" stroke-width="0.8"/>
<circle cx="47.15" cy="185.88" r="1.3" fill="#a6e5fa" stroke="#45c8f7" stroke-width="0.8"/>
<circle cx="42.92" cy="185.86" r="1.3" fill="#a6e5fa" stroke="#45c8f7" stroke-width="0.8"/>
<circle cx="65.66" cy="186.06" r="1.3" fill="#a6e5fa" stroke="#45c8f7" stroke-width="0.8"/>
<circle cx="66.53" cy="185.91" r="1.3" fill="#a6e5fa" stroke="#45c8f7" stroke-width="0.8"/>
<circle cx="46.92" cy="185.93" r="1.3" fill="#a6e5fa" stroke="#45c8f7" stroke-width="0.8"/>
<circle cx="80.39" cy="186.25" r="1.3" fill="#a6e5fa" stroke="#45c8f7" stroke-width="0.8"/>
<circle cx="84.81" cy="185.89" r="1.3" fill="#a6e5fa" stroke="#45c8f7" stroke-width="0.8"/>
<circle cx="40.66" cy="186.23" r="1.3" fill="#a6e5fa" stroke="#45c8f7" stroke-width="0.8"/>
<circle cx="61.09" cy="186.16" r="1.3" fill="#a6e5fa" stroke="#45c8f7" stroke-width="0.8"/>
<circle cx="54.18" cy="186.04" r="1.3" fill="#a6e5fa" stroke="#45c8f7" stroke-width="0.8"/>
<circle cx="63.80" cy="186.02" r="1.3" fill="#a6e5fa" stroke="#45c8f7" stroke-width="0.8"/>
<circle cx="68.17" cy="185.86" r="1.3" fill="#a6e5fa" stroke="#45c8f7" stroke-width="0.8"/>
<circle cx="73.28" cy="186.19" r="1.3" fill="#a6e5fa" stroke="#45c8f7" stroke-width="0.8"/>
<circle cx="46.75" cy="186.03" r="1.3" fill="#a6e5fa" stroke="#45c8f7" stroke-width="0.8"/>
<circle cx="75.24" cy="186.01" r="1.3" fill="#a6e5fa" stroke="#45c8f7" stroke-width="0.8"/>
<circle cx="47.46" cy="185.92" r="1.3" fill="#a6e5fa" stroke="#45c8f7" stroke-width="0.8"/>
<circle cx="63.66" cy="185.86" r="1.3" fill="#a6e5fa" stroke="#45c8f7" stroke-width="0.8"/>
<circle cx="83.09" cy="186.17" r="1.3" fill="#a6e5fa" stroke="#45c8f7" stroke-width="0.8"/>
<circle cx="73.47" cy="186.19" r="1.3" fill="#a6e5fa" stroke="#45c8f7" stroke-width="0.8"/>
<circle cx="69.63" cy="186.01" r="1.3" fill="#a6e5fa" stroke="#45c8f7" stroke-width="0.8"/>
<circle cx="68.11" cy="186.05" r="1.3" fill="#a6e5fa" stroke="#45c8f7" stroke-width="0.8"/>
<circle cx="87.66" cy="186.17" r="1.3" fill="#a6e5fa" stroke="#45c8f7" stroke-width="0.8"/>
<circle cx="50.68" cy="186.21" r="1.3" fill="#a6e5fa" stroke="#45c8f7" stroke-width="0.8"/>
<circle cx="75.50" cy="186.16" r="1.3" fill="#a6e5fa" stroke="#45c8f7" stroke-width="0.8"/>
<circle cx="79.08" cy="186.01" r="1.3" fill="#a6e5fa" stroke="#45c8f7" stroke-width="0.8"/>
<circle cx="83.26" cy="186.20" r="1.3" fill="#a6e5fa" stroke="#45c8f7" stroke-width="0.8"/>
<circle cx="72.97" cy="186.16" r="1.3" fill="#a6e5fa" stroke="#45c8f7" stroke-width="0.8"/>
<circle cx="96.02" cy="186.00" r="1.3" fill="#a6e5fa" stroke="#45c8f7" stroke-width="0.8"/>
<circle cx="97.76" cy="186.00" r="1.3" fill="#a6e5fa" stroke="#45c8f7" stroke-width="0.8"/>
<circle cx="99.75" cy="186.00" r="1.3" fill="#a6e5fa" stroke="#45c8f7" stroke-width="0.8"/>
<circle cx="101.74" cy="186.00" r="1.3" fill="#a6e5fa" stroke="#45c8f7" stroke-width="0.8"/>
<circle cx="110.21" cy="186.00" r="1.3" fill="#a6e5fa" stroke="#45c8f7" stroke-width="0.8"/>
<circle cx="112.20" cy="186.00" r="1.3" fill="#a6e5fa" stroke="#45c8f7" stroke-width="0.8"/>
<circle cx="114.69" cy="186.00" r="1.3" fill="#a6e5fa" stroke="#45c8f7" stroke-width="0.8"/>
<circle cx="116.68" cy="186.00" r="1.3" fill="#a6e5fa" stroke="#45c8f7" stroke-width="0.8"/>
<circle cx="127.14" cy="186.00" r="1.3" fill="#a6e5fa" stroke="#45c8f7" stroke-width="0.8"/>
<circle cx="135.86" cy="186.00" r="1.3" fill="#a6e5fa" stroke="#45c8f7" stroke-width="0.8"/>
<circle cx="150.79" cy="186.00" r="1.3" fill="#a6e5fa" stroke="#45c8f7" stroke-width="0.8"/>
<circle cx="107.10" cy="42.50" r="1.3" fill="#a6e5fa" stroke="#45c8f7" stroke-width="0.8"/>
<circle cx="108.10" cy="56.90" r="1.3" fill="#a6e5fa" stroke="#45c8f7" stroke-width="0.8"/>
<circle cx="126.20" cy="57.30" r="1.3" fill="#a6e5fa" stroke="#45c8f7" stroke-width="0.8"/>
<circle cx="133.70" cy="58.10" r="1.3" fill="#a6e5fa" stroke="#45c8f7" stroke-width="0.8"/>
<circle cx="165.00" cy="58.70" r="1.3" fill="#a6e5fa" stroke="#45c8f7" stroke-width="0.8"/>
<circle cx="105.80" cy="80.40" r="1.3" fill="#a6e5fa" stroke="#45c8f7" stroke-width="0.8"/>
<circle cx="120.40" cy="81.30" r="1.3" fill="#a6e5fa" stroke="#45c8f7" stroke-width="0.8"/>
<circle cx="107.70" cy="86.30" r="1.3" fill="#a6e5fa" stroke="#45c8f7" stroke-width="0.8"/>
<circle cx="163.70" cy="79.60" r="1.3" fill="#a6e5fa" stroke="#45c8f7" stroke-width="0.8"/>
<circle cx="149.60" cy="91.90" r="1.3" fill="#a6e5fa" stroke="#45c8f7" stroke-width="0.8"/>
<circle cx="165.80" cy="101.70" r="1.3" fill="#a6e5fa" stroke="#45c8f7" stroke-width="0.8"/>
<circle cx="112.00" cy="103.30" r="1.3" fill="#a6e5fa" stroke="#45c8f7" stroke-width="0.8"/>
<circle cx="119.40" cy="105.20" r="1.3" fill="#a6e5fa" stroke="#45c8f7" stroke-width="0.8"/>
<circle cx="103.70" cy="111.20" r="1.3" fill="#a6e5fa" stroke="#45c8f7" stroke-width="0.8"/>
<circle cx="132.50" cy="123.80" r="1.3" fill="#a6e5fa" stroke="#45c8f7" stroke-width="0.8"/>
<circle cx="163.50" cy="123.80" r="1.3" fill="#a6e5fa" stroke="#45c8f7" stroke-width="0.8"/>
<circle cx="103.80" cy="136.50" r="1.3" fill="#a6e5fa" stroke="#45c8f7" stroke-width="0.8"/>
<circle cx="107.50" cy="141.30" r="1.3" fill="#a6e5fa" stroke="#45c8f7" stroke-width="0.8"/>
<circle cx="152.70" cy="135.80" r="1.3" fill="#a6e5fa" stroke="#45c8f7" stroke-width="0.8"/>
<circle cx="113.00" cy="154.60" r="1.3" fill="#a6e5fa" stroke="#45c8f7" stroke-width="0.8"/>
<circle cx="140.00" cy="163.50" r="1.3" fill="#a6e5fa" stroke="#45c8f7" stroke-width="0.8"/>
<circle cx="102.50" cy="165.40" r="1.3" fill="#a6e5fa" stroke="#45c8f7" stroke-width="0.8"/>
<circle cx="123.50" cy="175.00" r="1.3" fill="#a6e5fa" stroke="#45c8f7" stroke-width="0.8"/>
<circle cx="101.50" cy="179.00" r="1.3" fill="#a6e5fa" stroke="#45c8f7" stroke-width="0.8"/>
<circle cx="151.00" cy="182.70" r="1.3" fill="#a6e5fa" stroke="#45c8f7" stroke-width="0.8"/>
<circle cx="37.90" cy="65.60" r="1.3" fill="#a6e5fa" stroke="#45c8f7" stroke-width="0.8"/>
<circle cx="37.90" cy="92.10" r="1.3" fill="#a6e5fa" stroke="#45c8f7" stroke-width="0.8"/>
<circle cx="60.60" cy="78.70" r="1.3" fill="#a6e5fa" stroke="#45c8f7" stroke-width="0.8"/>
<circle cx="95.20" cy="78.10" r="1.3" fill="#a6e5fa" stroke="#45c8f7" stroke-width="0.8"/>
<circle cx="68.30" cy="91.50" r="1.3" fill="#a6e5fa" stroke="#45c8f7" stroke-width="0.8"/>
<circle cx="69.20" cy="90.60" r="1.3" fill="#a6e5fa" stroke="#45c8f7" stroke-width="0.8"/>
<circle cx="68.30" cy="96.50" r="1.3" fill="#a6e5fa" stroke="#45c8f7" stroke-width="0.8"/>
<circle cx="81.20" cy="90.60" r="1.3" fill="#a6e5fa" stroke="#45c8f7" stroke-width="0.8"/>
<circle cx="49.60" cy="98.50" r="1.3" fill="#a6e5fa" stroke="#45c8f7" stroke-width="0.8"/>
<circle cx="47.50" cy="107.50" r="1.3" fill="#a6e5fa" stroke="#45c8f7" stroke-width="0.8"/>
<circle cx="39.40" cy="108.00" r="1.3" fill="#a6e5fa" stroke="#45c8f7" stroke-width="0.8"/>
<circle cx="37.90" cy="104.00" r="1.3" fill="#a6e5fa" stroke="#45c8f7" stroke-width="0.8"/>
<circle cx="38.50" cy="114.20" r="1.3" fill="#a6e5fa" stroke="#45c8f7" stroke-width="0.8"/>
<circle cx="83.70" cy="116.50" r="1.3" fill="#a6e5fa" stroke="#45c8f7" stroke-width="0.8"/>
<circle cx="88.00" cy="119.60" r="1.3" fill="#a6e5fa" stroke="#45c8f7" stroke-width="0.8"/>
<circle cx="98.50" cy="118.00" r="1.3" fill="#a6e5fa" stroke="#45c8f7" stroke-width="0.8"/>
<circle cx="47.10" cy="119.60" r="1.3" fill="#a6e5fa" stroke="#45c8f7" stroke-width="0.8"/>
<circle cx="50.00" cy="119.60" r="1.3" fill="#a6e5fa" stroke="#45c8f7" stroke-width="0.8"/>
<circle cx="59.60" cy="119.60" r="1.3" fill="#a6e5fa" stroke="#45c8f7" stroke-width="0.8"/>
<circle cx="59.60" cy="124.40" r="1.3" fill="#a6e5fa" stroke="#45c8f7" stroke-width="0.8"/>
<circle cx="65.40" cy="122.70" r="1.3" fill="#a6e5fa" stroke="#45c8f7" stroke-width="0.8"/>
<circle cx="68.30" cy="123.00" r="1.3" fill="#a6e5fa" stroke="#45c8f7" stroke-width="0.8"/>
<circle cx="80.40" cy="125.00" r="1.3" fill="#a6e5fa" stroke="#45c8f7" stroke-width="0.8"/>
<circle cx="90.00" cy="129.80" r="1.3" fill="#a6e5fa" stroke="#45c8f7" stroke-width="0.8"/>
<circle cx="94.60" cy="136.00" r="1.3" fill="#a6e5fa" stroke="#45c8f7" stroke-width="0.8"/>
<circle cx="72.30" cy="129.80" r="1.3" fill="#a6e5fa" stroke="#45c8f7" stroke-width="0.8"/>
<circle cx="55.80" cy="132.00" r="1.3" fill="#a6e5fa" stroke="#45c8f7" stroke-width="0.8"/>
<circle cx="57.70" cy="132.70" r="1.3" fill="#a6e5fa" stroke="#45c8f7" stroke-width="0.8"/>
<circle cx="62.50" cy="129.80" r="1.3" fill="#a6e5fa" stroke="#45c8f7" stroke-width="0.8"/>
<circle cx="64.40" cy="130.80" r="1.3" fill="#a6e5fa" stroke="#45c8f7" stroke-width="0.8"/>
<circle cx="39.40" cy="134.20" r="1.3" fill="#a6e5fa" stroke="#45c8f7" stroke-width="0.8"/>
<circle cx="88.50" cy="145.00" r="1.3" fill="#a6e5fa" stroke="#45c8f7" stroke-width="0.8"/>
<circle cx="92.00" cy="149.50" r="1.3" fill="#a6e5fa" stroke="#45c8f7" stroke-width="0.8"/>
<circle cx="85.00" cy="160.00" r="1.3" fill="#a6e5fa" stroke="#45c8f7" stroke-width="0.8"/>
<circle cx="90.00" cy="170.00" r="1.3" fill="#a6e5fa" stroke="#45c8f7" stroke-width="0.8"/>
<circle cx="95.00" cy="172.00" r="1.3" fill="#a6e5fa" stroke="#45c8f7" stroke-width="0.8"/>
<circle cx="80.00" cy="176.00" r="1.3" fill="#a6e5fa" stroke="#45c8f7" stroke-width="0.8"/>
<circle cx="97.00" cy="181.00" r="1.3" fill="#a6e5fa" stroke="#45c8f7" stroke-width="0.8"/>
<circle cx="76.00" cy="183.00" r="1.3" fill="#a6e5fa" stroke="#45c8f7" stroke-width="0.8"/>
<circle cx="85.00" cy="182.00" r="1.3" fill="#a6e5fa" stroke="#45c8f7" stroke-width="0.8"/>
<circle cx="92.00" cy="156.00" r="1.3" fill="#a6e5fa" stroke="#45c8f7" stroke-width="0.8"/>
<circle cx="163.10" cy="57.50" r="1.7" fill="#a01010" stroke="#111" stroke-width="0.7"/>
<circle cx="116.50" cy="90.60" r="1.7" fill="#10186a" stroke="#111" stroke-width="0.7"/>
<circle cx="124.20" cy="126.90" r="1.7" fill="#3aa84a" stroke="#111" stroke-width="0.7"/>
<circle cx="163.50" cy="153.10" r="1.7" fill="#e0a030" stroke="#111" stroke-width="0.7"/>
<text x="144.60" y="54.68" font-size="8.29" textLength="38.4" lengthAdjust="spacingAndGlyphs">CYB561A3</text>
<text x="103.60" y="99.28" font-size="8.29" textLength="20.8" lengthAdjust="spacingAndGlyphs">CDK4</text>
<text x="112.80" y="135.98" font-size="8.29" textLength="27.4" lengthAdjust="spacingAndGlyphs">CCND3</text>
<text x="164.80" y="149.98" font-size="8.29" textLength="18.4" lengthAdjust="spacingAndGlyphs">BCL6</text>
<text x="254.00" y="47.78" font-size="8.29" textLength="53.0" lengthAdjust="spacingAndGlyphs">P3HR-1 Burkitt</text>
<text x="338.50" y="47.98" font-size="8.29" textLength="50.7" lengthAdjust="spacingAndGlyphs">GM12878 LCL</text>
<path d="M238.4,82.3 L260.0,82.0 L262.7,81.6 L267.0,80.6 L271.9,78.5 L274.5,75.5 L276.5,71.5 L278.2,67.0 L279.6,62.3 L281.2,57.5 L282.7,55.4 L284.3,56.4 L285.8,59.2 L287.0,62.5 L288.0,67.0 L289.0,71.5 L290.0,76.0 L291.0,79.5 L292.0,81.5 L293.5,82.1 L310.7,82.3 Z" fill="#8a9d9e" stroke="#8a9d9e" stroke-width="0.8" stroke-linejoin="round"/>
<path d="M323.0,82.3 L338.0,82.0 L343.0,81.5 L347.0,79.8 L350.8,76.2 L354.0,72.0 L357.0,67.0 L359.3,63.0 L361.5,59.2 L363.6,57.0 L365.8,56.2 L367.6,57.0 L369.2,58.5 L371.0,62.0 L373.0,67.0 L374.7,71.5 L376.2,75.4 L377.8,78.5 L379.2,80.8 L381.0,81.9 L383.0,82.2 L395.0,82.3 Z" fill="#8a9d9e" stroke="#8a9d9e" stroke-width="0.8" stroke-linejoin="round"/>
<defs>
<linearGradient id="g1" x1="236.9" y1="0" x2="311.9" y2="0" gradientUnits="userSpaceOnUse">
<stop offset="0" stop-color="#fff"/><stop offset="0.16" stop-color="#fdfefe"/><stop offset="0.255" stop-color="#f4f8f8"/>
<stop offset="0.39" stop-color="#dde7e7"/><stop offset="0.47" stop-color="#bccccc"/><stop offset="0.52" stop-color="#7a9090"/>
<stop offset="0.545" stop-color="#243030"/><stop offset="0.557" stop-color="#000"/><stop offset="0.68" stop-color="#000"/>
<stop offset="0.693" stop-color="#3a4a4a"/><stop offset="0.715" stop-color="#c4d2d2"/><stop offset="0.74" stop-color="#fbfdfd"/><stop offset="1" stop-color="#fff"/>
</linearGradient>
<linearGradient id="g2" x1="321.2" y1="0" x2="395.6" y2="0" gradientUnits="userSpaceOnUse">
<stop offset="0" stop-color="#fff"/><stop offset="0.14" stop-color="#fdfefe"/><stop offset="0.25" stop-color="#f2f7f7"/>
<stop offset="0.36" stop-color="#d6e1e1"/><stop offset="0.44" stop-color="#a6b8b8"/><stop offset="0.48" stop-color="#5a7070"/>
<stop offset="0.495" stop-color="#1a2424"/><stop offset="0.505" stop-color="#000"/><stop offset="0.69" stop-color="#000"/>
<stop offset="0.715" stop-color="#304040"/><stop offset="0.75" stop-color="#a0b2b2"/><stop offset="0.79" stop-color="#e0e9e9"/>
<stop offset="0.845" stop-color="#fff"/><stop offset="1" stop-color="#fff"/>
</linearGradient>
</defs>
<rect x="237.60" y="95.60" width="73.60" height="13.00" fill="url(#g1)"/>
<rect x="239.20" y="95.60" width="1.40" height="13.00" fill="#f0607a"/>
<rect x="243.10" y="95.60" width="1.40" height="13.00" fill="#ef4060"/>
<rect x="254.80" y="95.60" width="1.10" height="13.00" fill="#f05070"/>
<rect x="237.60" y="95.60" width="73.60" height="13.00" fill="none" stroke="#000" stroke-width="1.4"/>
<rect x="237.60" y="112.00" width="73.60" height="13.40" fill="url(#g1)"/>
<rect x="281.00" y="112.00" width="5.00" height="13.40" fill="#800a0a"/>
<rect x="286.80" y="112.00" width="1.50" height="13.40" fill="#c41010"/>
<rect x="237.60" y="112.00" width="73.60" height="13.40" fill="none" stroke="#000" stroke-width="1.4"/>
<rect x="321.90" y="95.60" width="73.00" height="13.00" fill="url(#g2)"/>
<rect x="361.90" y="95.60" width="2.10" height="13.00" fill="#cc1010"/>
<rect x="368.70" y="95.60" width="4.50" height="13.00" fill="#a01010"/>
<rect x="321.90" y="95.60" width="73.00" height="13.00" fill="none" stroke="#000" stroke-width="1.4"/>
<rect x="321.90" y="112.00" width="73.00" height="13.40" fill="url(#g2)"/>
<rect x="358.80" y="112.00" width="5.00" height="13.40" fill="#e01010"/>
<rect x="321.90" y="112.00" width="73.00" height="13.40" fill="none" stroke="#000" stroke-width="1.4"/>
<text x="234.60" y="105.18" font-size="8.29" text-anchor="end" textLength="38.4" lengthAdjust="spacingAndGlyphs">CYB561A3</text>
<text x="234.60" y="121.88" font-size="8.29" text-anchor="end" textLength="28.5" lengthAdjust="spacingAndGlyphs">CYB561</text>
<line x1="236.90" y1="128.10" x2="311.90" y2="128.10" stroke="#000" stroke-width="1.1" />
<line x1="321.20" y1="128.10" x2="395.60" y2="128.10" stroke="#000" stroke-width="1.1" />
<text x="237.05" y="137.87" font-size="7.98" text-anchor="middle">−5</text>
<text x="261.88" y="137.87" font-size="7.98" text-anchor="middle">−2.5</text>
<text x="286.70" y="137.87" font-size="7.98" text-anchor="middle">0</text>
<text x="311.52" y="137.87" font-size="7.98" text-anchor="middle">2.5</text>
<text x="336.20" y="137.87" font-size="7.98" text-anchor="middle">−4</text>
<text x="353.40" y="137.87" font-size="7.98" text-anchor="middle">−2</text>
<text x="370.60" y="137.87" font-size="7.98" text-anchor="middle">0</text>
<text x="387.80" y="137.87" font-size="7.98" text-anchor="middle">2</text>
<text x="256.80" y="150.18" font-size="8.29" textLength="121.5" lengthAdjust="spacingAndGlyphs">Log2(fold change sgRNA day 21 vs 1)</text>
<text x="457.20" y="39.28" font-size="8.29" textLength="23.1" lengthAdjust="spacingAndGlyphs">sgRNA</text>
<line x1="457.20" y1="39.40" x2="480.30" y2="39.40" stroke="#1a1a1a" stroke-width="0.7" />
<rect x="446.40" y="42.80" width="6.20" height="6.40" fill="#33ee22" stroke="#000" stroke-width="1.0" />
<text x="456.80" y="48.98" font-size="8.29" textLength="26.0" lengthAdjust="spacingAndGlyphs">Control</text>
<rect x="446.40" y="53.20" width="6.20" height="6.40" fill="#cc0018" stroke="#000" stroke-width="1.0" />
<text x="456.80" y="59.38" font-size="8.29" textLength="45.2" lengthAdjust="spacingAndGlyphs">CYB561A3 #1</text>
<rect x="446.40" y="63.10" width="6.20" height="6.40" fill="#1438b8" stroke="#000" stroke-width="1.0" />
<text x="456.80" y="69.28" font-size="8.29" textLength="45.2" lengthAdjust="spacingAndGlyphs">CYB561A3 #2</text>
<line x1="449.00" y1="77.20" x2="449.00" y2="174.10" stroke="#000" stroke-width="1.2" />
<line x1="448.40" y1="173.50" x2="502.70" y2="173.50" stroke="#000" stroke-width="1.2" />
<line x1="445.40" y1="173.50" x2="449.00" y2="173.50" stroke="#000" stroke-width="1.0" />
<text x="443.40" y="176.37" font-size="7.98" text-anchor="end">0</text>
<line x1="445.40" y1="154.36" x2="449.00" y2="154.36" stroke="#000" stroke-width="1.0" />
<text x="443.40" y="157.23" font-size="7.98" text-anchor="end">20</text>
<line x1="445.40" y1="135.22" x2="449.00" y2="135.22" stroke="#000" stroke-width="1.0" />
<text x="443.40" y="138.09" font-size="7.98" text-anchor="end">40</text>
<line x1="445.40" y1="116.08" x2="449.00" y2="116.08" stroke="#000" stroke-width="1.0" />
<text x="443.40" y="118.95" font-size="7.98" text-anchor="end">60</text>
<line x1="445.40" y1="96.94" x2="449.00" y2="96.94" stroke="#000" stroke-width="1.0" />
<text x="443.40" y="99.81" font-size="7.98" text-anchor="end">80</text>
<line x1="445.40" y1="77.80" x2="449.00" y2="77.80" stroke="#000" stroke-width="1.0" />
<text x="443.40" y="80.67" font-size="7.98" text-anchor="end">100</text>
<rect x="459.50" y="78.30" width="5.60" height="95.20" fill="#cc0018" stroke="#000" stroke-width="1.0" />
<rect x="466.90" y="79.70" width="5.60" height="93.80" fill="#1438b8" stroke="#000" stroke-width="1.0" />
<rect x="486.10" y="87.50" width="5.50" height="86.00" fill="#cc0018" stroke="#000" stroke-width="1.0" />
<rect x="493.50" y="92.20" width="5.50" height="81.30" fill="#1438b8" stroke="#000" stroke-width="1.0" />
<text x="443.80" y="186.38" font-size="8.29" textLength="25.4" lengthAdjust="spacingAndGlyphs">P3HR-1</text>
<text x="477.30" y="186.38" font-size="8.29" textLength="35.1" lengthAdjust="spacingAndGlyphs">GM12878</text>
<text transform="translate(422.20,125.50) rotate(-90)" x="0" y="3.25" font-size="9.03" text-anchor="middle" textLength="43.7" lengthAdjust="spacingAndGlyphs">% indel reads</text>
<line x1="461.90" y1="173.50" x2="461.90" y2="176.00" stroke="#000" stroke-width="1.0" />
<line x1="489.00" y1="173.50" x2="489.00" y2="176.00" stroke="#000" stroke-width="1.0" />
<line x1="150.60" y1="221.70" x2="150.60" y2="403.50" stroke="#a3b6b6" stroke-width="0.8" stroke-dasharray="2.6,2.2"/>
<circle cx="46.75" cy="230.40" r="2.05" fill="#ccd6d6"/>
<circle cx="74.50" cy="230.40" r="2.05" fill="#ccd6d6"/>
<circle cx="108.70" cy="230.40" r="2.05" fill="#ccd6d6"/>
<circle cx="116.70" cy="230.40" r="2.05" fill="#ccd6d6"/>
<circle cx="132.70" cy="230.40" r="2.05" fill="#ccd6d6"/>
<circle cx="171.30" cy="230.40" r="2.05" fill="#ccd6d6"/>
<circle cx="150.60" cy="230.40" r="2.05" fill="#ccd6d6"/>
<circle cx="153.80" cy="230.40" r="2.05" fill="#ccd6d6"/>
<circle cx="157.00" cy="230.40" r="2.05" fill="#ccd6d6"/>
<text x="197.00" y="232.58" font-size="7.45" textLength="39.25" lengthAdjust="spacingAndGlyphs">Lymphocyte</text>
<circle cx="135.80" cy="237.15" r="2.05" fill="#ccd6d6"/>
<text x="197.00" y="239.33" font-size="7.45" textLength="27.3" lengthAdjust="spacingAndGlyphs">Prostate</text>
<circle cx="127.00" cy="243.90" r="2.05" fill="#ccd6d6"/>
<circle cx="140.10" cy="243.90" r="2.05" fill="#ccd6d6"/>
<circle cx="143.75" cy="243.90" r="2.05" fill="#ccd6d6"/>
<circle cx="147.40" cy="243.90" r="2.05" fill="#ccd6d6"/>
<text x="197.00" y="246.08" font-size="7.45" textLength="24.44" lengthAdjust="spacingAndGlyphs">Thyroid</text>
<circle cx="126.50" cy="250.65" r="2.05" fill="#ccd6d6"/>
<circle cx="135.00" cy="250.65" r="2.05" fill="#ccd6d6"/>
<circle cx="110.40" cy="250.65" r="2.05" fill="#ccd6d6"/>
<circle cx="115.40" cy="250.65" r="2.05" fill="#ccd6d6"/>
<circle cx="141.60" cy="250.65" r="2.05" fill="#ccd6d6"/>
<circle cx="144.45" cy="250.65" r="2.05" fill="#ccd6d6"/>
<circle cx="147.30" cy="250.65" r="2.05" fill="#ccd6d6"/>
<circle cx="150.15" cy="250.65" r="2.05" fill="#ccd6d6"/>
<circle cx="153.00" cy="250.65" r="2.05" fill="#ccd6d6"/>
<circle cx="155.85" cy="250.65" r="2.05" fill="#ccd6d6"/>
<circle cx="158.70" cy="250.65" r="2.05" fill="#ccd6d6"/>
<circle cx="161.55" cy="250.65" r="2.05" fill="#ccd6d6"/>
<circle cx="164.40" cy="250.65" r="2.05" fill="#ccd6d6"/>
<text x="197.00" y="252.83" font-size="7.45" textLength="37.48" lengthAdjust="spacingAndGlyphs">Plasma cell</text>
<circle cx="109.20" cy="257.40" r="2.05" fill="#ccd6d6"/>
<circle cx="130.80" cy="257.40" r="2.05" fill="#ccd6d6"/>
<circle cx="140.10" cy="257.40" r="2.05" fill="#ccd6d6"/>
<circle cx="142.76" cy="257.40" r="2.05" fill="#ccd6d6"/>
<circle cx="145.42" cy="257.40" r="2.05" fill="#ccd6d6"/>
<circle cx="148.08" cy="257.40" r="2.05" fill="#ccd6d6"/>
<circle cx="150.74" cy="257.40" r="2.05" fill="#ccd6d6"/>
<circle cx="153.40" cy="257.40" r="2.05" fill="#ccd6d6"/>
<circle cx="163.00" cy="257.40" r="2.05" fill="#ccd6d6"/>
<circle cx="163.00" cy="257.40" r="2.05" fill="#ccd6d6"/>
<text x="197.00" y="259.58" font-size="7.45" textLength="86.77" lengthAdjust="spacingAndGlyphs">Peripheral nervous system</text>
<circle cx="112.70" cy="264.15" r="2.05" fill="#ccd6d6"/>
<circle cx="122.70" cy="264.15" r="2.05" fill="#ccd6d6"/>
<circle cx="165.40" cy="264.15" r="2.05" fill="#ccd6d6"/>
<circle cx="172.70" cy="264.15" r="2.05" fill="#ccd6d6"/>
<circle cx="134.60" cy="264.15" r="2.05" fill="#ccd6d6"/>
<circle cx="137.30" cy="264.15" r="2.05" fill="#ccd6d6"/>
<circle cx="140.00" cy="264.15" r="2.05" fill="#ccd6d6"/>
<circle cx="142.70" cy="264.15" r="2.05" fill="#ccd6d6"/>
<circle cx="145.40" cy="264.15" r="2.05" fill="#ccd6d6"/>
<circle cx="153.60" cy="264.15" r="2.05" fill="#ccd6d6"/>
<circle cx="157.00" cy="264.15" r="2.05" fill="#ccd6d6"/>
<circle cx="160.40" cy="264.15" r="2.05" fill="#ccd6d6"/>
<circle cx="147.10" cy="264.15" r="2.25" fill="#1530a8"/>
<text x="197.00" y="266.33" font-size="7.45" textLength="19.55" lengthAdjust="spacingAndGlyphs">Ovary</text>
<circle cx="176.70" cy="270.90" r="2.05" fill="#ccd6d6"/>
<circle cx="135.60" cy="270.90" r="2.05" fill="#ccd6d6"/>
<circle cx="138.55" cy="270.90" r="2.05" fill="#ccd6d6"/>
<circle cx="141.50" cy="270.90" r="2.05" fill="#ccd6d6"/>
<circle cx="144.45" cy="270.90" r="2.05" fill="#ccd6d6"/>
<circle cx="147.40" cy="270.90" r="2.05" fill="#ccd6d6"/>
<circle cx="152.60" cy="270.90" r="2.05" fill="#ccd6d6"/>
<circle cx="155.87" cy="270.90" r="2.05" fill="#ccd6d6"/>
<circle cx="159.13" cy="270.90" r="2.05" fill="#ccd6d6"/>
<circle cx="162.40" cy="270.90" r="2.05" fill="#ccd6d6"/>
<text x="197.00" y="273.08" font-size="7.45" textLength="65.6" lengthAdjust="spacingAndGlyphs">Upper aerodigestive</text>
<circle cx="118.00" cy="277.65" r="2.05" fill="#ccd6d6"/>
<circle cx="166.70" cy="277.65" r="2.05" fill="#ccd6d6"/>
<circle cx="130.60" cy="277.65" r="2.05" fill="#ccd6d6"/>
<circle cx="133.36" cy="277.65" r="2.05" fill="#ccd6d6"/>
<circle cx="136.11" cy="277.65" r="2.05" fill="#ccd6d6"/>
<circle cx="138.87" cy="277.65" r="2.05" fill="#ccd6d6"/>
<circle cx="141.62" cy="277.65" r="2.05" fill="#ccd6d6"/>
<circle cx="144.38" cy="277.65" r="2.05" fill="#ccd6d6"/>
<circle cx="147.13" cy="277.65" r="2.05" fill="#ccd6d6"/>
<circle cx="149.89" cy="277.65" r="2.05" fill="#ccd6d6"/>
<circle cx="152.64" cy="277.65" r="2.05" fill="#ccd6d6"/>
<circle cx="155.40" cy="277.65" r="2.05" fill="#ccd6d6"/>
<circle cx="178.60" cy="277.65" r="2.05" fill="#ccd6d6"/>
<circle cx="180.40" cy="277.65" r="2.05" fill="#ccd6d6"/>
<text x="197.00" y="279.83" font-size="7.45" textLength="34.22" lengthAdjust="spacingAndGlyphs">Soft tissue</text>
<circle cx="128.00" cy="284.40" r="2.05" fill="#ccd6d6"/>
<circle cx="167.50" cy="284.40" r="2.05" fill="#ccd6d6"/>
<circle cx="115.60" cy="284.40" r="2.05" fill="#ccd6d6"/>
<circle cx="116.40" cy="284.40" r="2.05" fill="#ccd6d6"/>
<circle cx="140.10" cy="284.40" r="2.05" fill="#ccd6d6"/>
<circle cx="142.93" cy="284.40" r="2.05" fill="#ccd6d6"/>
<circle cx="145.76" cy="284.40" r="2.05" fill="#ccd6d6"/>
<circle cx="148.59" cy="284.40" r="2.05" fill="#ccd6d6"/>
<circle cx="151.41" cy="284.40" r="2.05" fill="#ccd6d6"/>
<circle cx="154.24" cy="284.40" r="2.05" fill="#ccd6d6"/>
<circle cx="157.07" cy="284.40" r="2.05" fill="#ccd6d6"/>
<circle cx="159.90" cy="284.40" r="2.05" fill="#ccd6d6"/>
<text x="197.00" y="286.58" font-size="7.45" textLength="15.89" lengthAdjust="spacingAndGlyphs">Liver</text>
<circle cx="116.50" cy="291.15" r="2.05" fill="#ccd6d6"/>
<circle cx="131.60" cy="291.15" r="2.05" fill="#ccd6d6"/>
<circle cx="134.50" cy="291.15" r="2.05" fill="#ccd6d6"/>
<circle cx="137.40" cy="291.15" r="2.05" fill="#ccd6d6"/>
<circle cx="142.60" cy="291.15" r="2.05" fill="#ccd6d6"/>
<circle cx="145.20" cy="291.15" r="2.05" fill="#ccd6d6"/>
<circle cx="147.80" cy="291.15" r="2.05" fill="#ccd6d6"/>
<circle cx="150.40" cy="291.15" r="2.05" fill="#ccd6d6"/>
<circle cx="155.60" cy="291.15" r="2.05" fill="#ccd6d6"/>
<circle cx="158.50" cy="291.15" r="2.05" fill="#ccd6d6"/>
<circle cx="161.40" cy="291.15" r="2.05" fill="#ccd6d6"/>
<text x="197.00" y="293.33" font-size="7.45" textLength="28.11" lengthAdjust="spacingAndGlyphs">Bile duct</text>
<circle cx="182.00" cy="297.90" r="2.05" fill="#ccd6d6"/>
<circle cx="120.60" cy="297.90" r="2.05" fill="#ccd6d6"/>
<circle cx="123.32" cy="297.90" r="2.05" fill="#ccd6d6"/>
<circle cx="126.04" cy="297.90" r="2.05" fill="#ccd6d6"/>
<circle cx="128.76" cy="297.90" r="2.05" fill="#ccd6d6"/>
<circle cx="131.48" cy="297.90" r="2.05" fill="#ccd6d6"/>
<circle cx="134.20" cy="297.90" r="2.05" fill="#ccd6d6"/>
<circle cx="136.92" cy="297.90" r="2.05" fill="#ccd6d6"/>
<circle cx="139.64" cy="297.90" r="2.05" fill="#ccd6d6"/>
<circle cx="142.36" cy="297.90" r="2.05" fill="#ccd6d6"/>
<circle cx="145.08" cy="297.90" r="2.05" fill="#ccd6d6"/>
<circle cx="147.80" cy="297.90" r="2.05" fill="#ccd6d6"/>
<circle cx="150.52" cy="297.90" r="2.05" fill="#ccd6d6"/>
<circle cx="153.24" cy="297.90" r="2.05" fill="#ccd6d6"/>
<circle cx="155.96" cy="297.90" r="2.05" fill="#ccd6d6"/>
<circle cx="158.68" cy="297.90" r="2.05" fill="#ccd6d6"/>
<circle cx="161.40" cy="297.90" r="2.05" fill="#ccd6d6"/>
<circle cx="171.60" cy="297.90" r="2.05" fill="#ccd6d6"/>
<circle cx="173.40" cy="297.90" r="2.05" fill="#ccd6d6"/>
<circle cx="157.30" cy="297.90" r="2.25" fill="#1530a8"/>
<text x="197.00" y="300.08" font-size="7.45" textLength="14.26" lengthAdjust="spacingAndGlyphs">Skin</text>
<circle cx="106.50" cy="304.65" r="2.05" fill="#ccd6d6"/>
<circle cx="173.00" cy="304.65" r="2.05" fill="#ccd6d6"/>
<circle cx="179.80" cy="304.65" r="2.05" fill="#ccd6d6"/>
<circle cx="125.60" cy="304.65" r="2.05" fill="#ccd6d6"/>
<circle cx="128.30" cy="304.65" r="2.05" fill="#ccd6d6"/>
<circle cx="131.00" cy="304.65" r="2.05" fill="#ccd6d6"/>
<circle cx="133.70" cy="304.65" r="2.05" fill="#ccd6d6"/>
<circle cx="136.40" cy="304.65" r="2.05" fill="#ccd6d6"/>
<circle cx="139.10" cy="304.65" r="2.05" fill="#ccd6d6"/>
<circle cx="141.80" cy="304.65" r="2.05" fill="#ccd6d6"/>
<circle cx="144.50" cy="304.65" r="2.05" fill="#ccd6d6"/>
<circle cx="147.20" cy="304.65" r="2.05" fill="#ccd6d6"/>
<circle cx="149.90" cy="304.65" r="2.05" fill="#ccd6d6"/>
<circle cx="152.60" cy="304.65" r="2.05" fill="#ccd6d6"/>
<circle cx="155.30" cy="304.65" r="2.05" fill="#ccd6d6"/>
<circle cx="158.00" cy="304.65" r="2.05" fill="#ccd6d6"/>
<circle cx="160.70" cy="304.65" r="2.05" fill="#ccd6d6"/>
<circle cx="163.40" cy="304.65" r="2.05" fill="#ccd6d6"/>
<circle cx="159.60" cy="304.65" r="2.25" fill="#1530a8"/>
<text x="197.00" y="306.83" font-size="7.45" textLength="39.91" lengthAdjust="spacingAndGlyphs">Urinary tract</text>
<circle cx="116.70" cy="311.40" r="2.05" fill="#ccd6d6"/>
<circle cx="135.60" cy="311.40" r="2.05" fill="#ccd6d6"/>
<circle cx="138.80" cy="311.40" r="2.05" fill="#ccd6d6"/>
<circle cx="142.00" cy="311.40" r="2.05" fill="#ccd6d6"/>
<circle cx="145.20" cy="311.40" r="2.05" fill="#ccd6d6"/>
<circle cx="148.40" cy="311.40" r="2.05" fill="#ccd6d6"/>
<circle cx="158.60" cy="311.40" r="2.05" fill="#ccd6d6"/>
<circle cx="161.55" cy="311.40" r="2.05" fill="#ccd6d6"/>
<circle cx="164.50" cy="311.40" r="2.05" fill="#ccd6d6"/>
<circle cx="167.45" cy="311.40" r="2.05" fill="#ccd6d6"/>
<circle cx="170.40" cy="311.40" r="2.05" fill="#ccd6d6"/>
<text x="197.00" y="313.58" font-size="7.45" textLength="36.68" lengthAdjust="spacingAndGlyphs">Esophagus</text>
<circle cx="137.50" cy="318.15" r="2.05" fill="#ccd6d6"/>
<circle cx="145.60" cy="318.15" r="2.05" fill="#ccd6d6"/>
<circle cx="148.55" cy="318.15" r="2.05" fill="#ccd6d6"/>
<circle cx="151.50" cy="318.15" r="2.05" fill="#ccd6d6"/>
<circle cx="154.45" cy="318.15" r="2.05" fill="#ccd6d6"/>
<circle cx="157.40" cy="318.15" r="2.05" fill="#ccd6d6"/>
<text x="197.00" y="320.33" font-size="7.45" textLength="20.77" lengthAdjust="spacingAndGlyphs">Cervix</text>
<circle cx="123.00" cy="324.90" r="2.05" fill="#ccd6d6"/>
<circle cx="130.00" cy="324.90" r="2.05" fill="#ccd6d6"/>
<circle cx="138.50" cy="324.90" r="2.05" fill="#ccd6d6"/>
<circle cx="153.60" cy="324.90" r="2.05" fill="#ccd6d6"/>
<circle cx="156.80" cy="324.90" r="2.05" fill="#ccd6d6"/>
<circle cx="160.00" cy="324.90" r="2.05" fill="#ccd6d6"/>
<circle cx="163.20" cy="324.90" r="2.05" fill="#ccd6d6"/>
<circle cx="166.40" cy="324.90" r="2.05" fill="#ccd6d6"/>
<circle cx="146.20" cy="324.90" r="2.25" fill="#1530a8"/>
<text x="197.00" y="327.08" font-size="7.45" textLength="33.0" lengthAdjust="spacingAndGlyphs">Colorectal</text>
<circle cx="176.00" cy="331.65" r="2.05" fill="#ccd6d6"/>
<circle cx="135.60" cy="331.65" r="2.05" fill="#ccd6d6"/>
<circle cx="138.36" cy="331.65" r="2.05" fill="#ccd6d6"/>
<circle cx="141.11" cy="331.65" r="2.05" fill="#ccd6d6"/>
<circle cx="143.87" cy="331.65" r="2.05" fill="#ccd6d6"/>
<circle cx="146.62" cy="331.65" r="2.05" fill="#ccd6d6"/>
<circle cx="149.38" cy="331.65" r="2.05" fill="#ccd6d6"/>
<circle cx="152.13" cy="331.65" r="2.05" fill="#ccd6d6"/>
<circle cx="154.89" cy="331.65" r="2.05" fill="#ccd6d6"/>
<circle cx="157.64" cy="331.65" r="2.05" fill="#ccd6d6"/>
<circle cx="160.40" cy="331.65" r="2.05" fill="#ccd6d6"/>
<circle cx="153.50" cy="331.65" r="2.25" fill="#d01020"/>
<text x="197.00" y="333.83" font-size="7.45" textLength="21.18" lengthAdjust="spacingAndGlyphs">Breast</text>
<circle cx="72.75" cy="338.40" r="2.05" fill="#ccd6d6"/>
<circle cx="99.25" cy="338.40" r="2.05" fill="#ccd6d6"/>
<circle cx="117.00" cy="338.40" r="2.05" fill="#ccd6d6"/>
<circle cx="130.60" cy="338.40" r="2.05" fill="#ccd6d6"/>
<circle cx="133.37" cy="338.40" r="2.05" fill="#ccd6d6"/>
<circle cx="136.14" cy="338.40" r="2.05" fill="#ccd6d6"/>
<circle cx="138.91" cy="338.40" r="2.05" fill="#ccd6d6"/>
<circle cx="141.69" cy="338.40" r="2.05" fill="#ccd6d6"/>
<circle cx="144.46" cy="338.40" r="2.05" fill="#ccd6d6"/>
<circle cx="147.23" cy="338.40" r="2.05" fill="#ccd6d6"/>
<circle cx="150.00" cy="338.40" r="2.05" fill="#ccd6d6"/>
<circle cx="152.77" cy="338.40" r="2.05" fill="#ccd6d6"/>
<circle cx="155.54" cy="338.40" r="2.05" fill="#ccd6d6"/>
<circle cx="158.31" cy="338.40" r="2.05" fill="#ccd6d6"/>
<circle cx="161.09" cy="338.40" r="2.05" fill="#ccd6d6"/>
<circle cx="163.86" cy="338.40" r="2.05" fill="#ccd6d6"/>
<circle cx="166.63" cy="338.40" r="2.05" fill="#ccd6d6"/>
<circle cx="169.40" cy="338.40" r="2.05" fill="#ccd6d6"/>
<circle cx="178.60" cy="338.40" r="2.05" fill="#ccd6d6"/>
<circle cx="180.40" cy="338.40" r="2.05" fill="#ccd6d6"/>
<text x="197.00" y="340.58" font-size="7.45" textLength="18.75" lengthAdjust="spacingAndGlyphs">Blood</text>
<circle cx="122.50" cy="345.15" r="2.05" fill="#ccd6d6"/>
<circle cx="131.60" cy="345.15" r="2.05" fill="#ccd6d6"/>
<circle cx="134.20" cy="345.15" r="2.05" fill="#ccd6d6"/>
<circle cx="136.80" cy="345.15" r="2.05" fill="#ccd6d6"/>
<circle cx="139.40" cy="345.15" r="2.05" fill="#ccd6d6"/>
<circle cx="146.60" cy="345.15" r="2.05" fill="#ccd6d6"/>
<circle cx="149.32" cy="345.15" r="2.05" fill="#ccd6d6"/>
<circle cx="152.05" cy="345.15" r="2.05" fill="#ccd6d6"/>
<circle cx="154.78" cy="345.15" r="2.05" fill="#ccd6d6"/>
<circle cx="157.50" cy="345.15" r="2.05" fill="#ccd6d6"/>
<circle cx="160.22" cy="345.15" r="2.05" fill="#ccd6d6"/>
<circle cx="162.95" cy="345.15" r="2.05" fill="#ccd6d6"/>
<circle cx="165.68" cy="345.15" r="2.05" fill="#ccd6d6"/>
<circle cx="168.40" cy="345.15" r="2.05" fill="#ccd6d6"/>
<circle cx="150.00" cy="345.15" r="2.25" fill="#1530a8"/>
<circle cx="164.60" cy="345.15" r="2.25" fill="#1530a8"/>
<text x="197.00" y="347.33" font-size="7.45" textLength="21.59" lengthAdjust="spacingAndGlyphs">Uterus</text>
<circle cx="137.60" cy="351.90" r="2.05" fill="#ccd6d6"/>
<circle cx="142.40" cy="351.90" r="2.05" fill="#ccd6d6"/>
<circle cx="151.60" cy="351.90" r="2.05" fill="#ccd6d6"/>
<circle cx="154.55" cy="351.90" r="2.05" fill="#ccd6d6"/>
<circle cx="157.50" cy="351.90" r="2.05" fill="#ccd6d6"/>
<circle cx="160.45" cy="351.90" r="2.05" fill="#ccd6d6"/>
<circle cx="163.40" cy="351.90" r="2.05" fill="#ccd6d6"/>
<text x="197.00" y="354.08" font-size="7.45" textLength="22.41" lengthAdjust="spacingAndGlyphs">Kidney</text>
<circle cx="130.60" cy="358.65" r="2.05" fill="#ccd6d6"/>
<circle cx="133.32" cy="358.65" r="2.05" fill="#ccd6d6"/>
<circle cx="136.04" cy="358.65" r="2.05" fill="#ccd6d6"/>
<circle cx="138.76" cy="358.65" r="2.05" fill="#ccd6d6"/>
<circle cx="141.48" cy="358.65" r="2.05" fill="#ccd6d6"/>
<circle cx="144.20" cy="358.65" r="2.05" fill="#ccd6d6"/>
<circle cx="146.92" cy="358.65" r="2.05" fill="#ccd6d6"/>
<circle cx="149.64" cy="358.65" r="2.05" fill="#ccd6d6"/>
<circle cx="152.36" cy="358.65" r="2.05" fill="#ccd6d6"/>
<circle cx="155.08" cy="358.65" r="2.05" fill="#ccd6d6"/>
<circle cx="157.80" cy="358.65" r="2.05" fill="#ccd6d6"/>
<circle cx="160.52" cy="358.65" r="2.05" fill="#ccd6d6"/>
<circle cx="163.24" cy="358.65" r="2.05" fill="#ccd6d6"/>
<circle cx="165.96" cy="358.65" r="2.05" fill="#ccd6d6"/>
<circle cx="168.68" cy="358.65" r="2.05" fill="#ccd6d6"/>
<circle cx="171.40" cy="358.65" r="2.05" fill="#ccd6d6"/>
<text x="197.00" y="360.83" font-size="7.45" textLength="30.96" lengthAdjust="spacingAndGlyphs">Pancreas</text>
<circle cx="120.60" cy="365.40" r="2.05" fill="#ccd6d6"/>
<circle cx="186.00" cy="365.40" r="2.05" fill="#ccd6d6"/>
<circle cx="130.60" cy="365.40" r="2.05" fill="#ccd6d6"/>
<circle cx="133.20" cy="365.40" r="2.05" fill="#ccd6d6"/>
<circle cx="135.80" cy="365.40" r="2.05" fill="#ccd6d6"/>
<circle cx="138.40" cy="365.40" r="2.05" fill="#ccd6d6"/>
<circle cx="143.60" cy="365.40" r="2.05" fill="#ccd6d6"/>
<circle cx="146.56" cy="365.40" r="2.05" fill="#ccd6d6"/>
<circle cx="149.52" cy="365.40" r="2.05" fill="#ccd6d6"/>
<circle cx="152.48" cy="365.40" r="2.05" fill="#ccd6d6"/>
<circle cx="155.44" cy="365.40" r="2.05" fill="#ccd6d6"/>
<circle cx="158.40" cy="365.40" r="2.05" fill="#ccd6d6"/>
<circle cx="164.60" cy="365.40" r="2.05" fill="#ccd6d6"/>
<circle cx="168.40" cy="365.40" r="2.05" fill="#ccd6d6"/>
<text x="197.00" y="367.58" font-size="7.45" textLength="17.12" lengthAdjust="spacingAndGlyphs">Bone</text>
<circle cx="182.00" cy="372.15" r="2.05" fill="#ccd6d6"/>
<circle cx="192.50" cy="372.15" r="2.05" fill="#ccd6d6"/>
<circle cx="121.60" cy="372.15" r="2.05" fill="#ccd6d6"/>
<circle cx="124.29" cy="372.15" r="2.05" fill="#ccd6d6"/>
<circle cx="126.98" cy="372.15" r="2.05" fill="#ccd6d6"/>
<circle cx="129.67" cy="372.15" r="2.05" fill="#ccd6d6"/>
<circle cx="132.36" cy="372.15" r="2.05" fill="#ccd6d6"/>
<circle cx="135.05" cy="372.15" r="2.05" fill="#ccd6d6"/>
<circle cx="137.74" cy="372.15" r="2.05" fill="#ccd6d6"/>
<circle cx="140.43" cy="372.15" r="2.05" fill="#ccd6d6"/>
<circle cx="143.12" cy="372.15" r="2.05" fill="#ccd6d6"/>
<circle cx="145.81" cy="372.15" r="2.05" fill="#ccd6d6"/>
<circle cx="148.50" cy="372.15" r="2.05" fill="#ccd6d6"/>
<circle cx="151.19" cy="372.15" r="2.05" fill="#ccd6d6"/>
<circle cx="153.88" cy="372.15" r="2.05" fill="#ccd6d6"/>
<circle cx="156.57" cy="372.15" r="2.05" fill="#ccd6d6"/>
<circle cx="159.26" cy="372.15" r="2.05" fill="#ccd6d6"/>
<circle cx="161.95" cy="372.15" r="2.05" fill="#ccd6d6"/>
<circle cx="164.64" cy="372.15" r="2.05" fill="#ccd6d6"/>
<circle cx="167.33" cy="372.15" r="2.05" fill="#ccd6d6"/>
<circle cx="170.02" cy="372.15" r="2.05" fill="#ccd6d6"/>
<circle cx="172.71" cy="372.15" r="2.05" fill="#ccd6d6"/>
<circle cx="175.40" cy="372.15" r="2.05" fill="#ccd6d6"/>
<circle cx="134.00" cy="372.15" r="2.25" fill="#1530a8"/>
<text x="197.00" y="374.33" font-size="7.45" textLength="16.3" lengthAdjust="spacingAndGlyphs">Lung</text>
<circle cx="125.60" cy="378.90" r="2.05" fill="#ccd6d6"/>
<circle cx="176.50" cy="378.90" r="2.05" fill="#ccd6d6"/>
<circle cx="131.60" cy="378.90" r="2.05" fill="#ccd6d6"/>
<circle cx="134.30" cy="378.90" r="2.05" fill="#ccd6d6"/>
<circle cx="137.00" cy="378.90" r="2.05" fill="#ccd6d6"/>
<circle cx="139.70" cy="378.90" r="2.05" fill="#ccd6d6"/>
<circle cx="142.40" cy="378.90" r="2.05" fill="#ccd6d6"/>
<circle cx="145.10" cy="378.90" r="2.05" fill="#ccd6d6"/>
<circle cx="147.80" cy="378.90" r="2.05" fill="#ccd6d6"/>
<circle cx="150.50" cy="378.90" r="2.05" fill="#ccd6d6"/>
<circle cx="153.20" cy="378.90" r="2.05" fill="#ccd6d6"/>
<circle cx="155.90" cy="378.90" r="2.05" fill="#ccd6d6"/>
<circle cx="158.60" cy="378.90" r="2.05" fill="#ccd6d6"/>
<circle cx="161.30" cy="378.90" r="2.05" fill="#ccd6d6"/>
<circle cx="164.00" cy="378.90" r="2.05" fill="#ccd6d6"/>
<circle cx="166.70" cy="378.90" r="2.05" fill="#ccd6d6"/>
<circle cx="169.40" cy="378.90" r="2.05" fill="#ccd6d6"/>
<text x="197.00" y="381.08" font-size="7.45" textLength="76.99" lengthAdjust="spacingAndGlyphs">Central nervous system</text>
<circle cx="124.60" cy="385.65" r="2.05" fill="#ccd6d6"/>
<circle cx="172.50" cy="385.65" r="2.05" fill="#ccd6d6"/>
<circle cx="137.60" cy="385.65" r="2.05" fill="#ccd6d6"/>
<circle cx="140.20" cy="385.65" r="2.05" fill="#ccd6d6"/>
<circle cx="142.80" cy="385.65" r="2.05" fill="#ccd6d6"/>
<circle cx="145.40" cy="385.65" r="2.05" fill="#ccd6d6"/>
<circle cx="148.00" cy="385.65" r="2.05" fill="#ccd6d6"/>
<circle cx="150.60" cy="385.65" r="2.05" fill="#ccd6d6"/>
<circle cx="153.20" cy="385.65" r="2.05" fill="#ccd6d6"/>
<circle cx="155.80" cy="385.65" r="2.05" fill="#ccd6d6"/>
<circle cx="158.40" cy="385.65" r="2.05" fill="#ccd6d6"/>
<circle cx="164.60" cy="385.65" r="2.25" fill="#d01020"/>
<text x="197.00" y="387.83" font-size="7.45" textLength="23.21" lengthAdjust="spacingAndGlyphs">Gastric</text>
<circle cx="153.80" cy="392.40" r="2.05" fill="#ccd6d6"/>
<text x="197.00" y="394.58" font-size="7.45" textLength="32.18" lengthAdjust="spacingAndGlyphs">Fibroblast</text>
<circle cx="151.70" cy="399.15" r="2.05" fill="#ccd6d6"/>
<circle cx="160.00" cy="399.15" r="2.05" fill="#ccd6d6"/>
<text x="197.00" y="401.33" font-size="7.45" textLength="12.63" lengthAdjust="spacingAndGlyphs">Eye</text>
<polygon points="14.00,227.80 14.87,229.70 16.95,229.94 15.42,231.36 15.82,233.41 14.00,232.39 12.18,233.41 12.58,231.36 11.05,229.94 13.13,229.70" fill="#fff" stroke="#111" stroke-width="1.0" stroke-linejoin="round"/>
<polygon points="20.20,227.80 21.07,229.70 23.15,229.94 21.62,231.36 22.02,233.41 20.20,232.39 18.38,233.41 18.78,231.36 17.25,229.94 19.33,229.70" fill="#fff" stroke="#111" stroke-width="1.0" stroke-linejoin="round"/>
<polygon points="35.90,227.80 36.77,229.70 38.85,229.94 37.32,231.36 37.72,233.41 35.90,232.39 34.08,233.41 34.48,231.36 32.95,229.94 35.03,229.70" fill="#fff" stroke="#111" stroke-width="1.0" stroke-linejoin="round"/>
<ellipse cx="24.3" cy="231.0" rx="15.8" ry="8.5" fill="none" stroke="#cc1424" stroke-width="1.45"/>
<line x1="37.50" y1="222.00" x2="37.50" y2="401.30" stroke="#cc1424" stroke-width="1.2" />
<text x="11.00" y="249.68" font-size="8.29" textLength="22.7" lengthAdjust="spacingAndGlyphs">Burkitt</text>
<text x="54.20" y="334.68" font-size="8.29" textLength="20.3" lengthAdjust="spacingAndGlyphs">B-ALL</text>
<text x="83.70" y="334.68" font-size="8.29" textLength="24.3" lengthAdjust="spacingAndGlyphs">DLBCL</text>
<text x="37.50" y="410.87" font-size="7.98" text-anchor="middle">−1</text>
<text x="94.05" y="410.87" font-size="7.98" text-anchor="middle">−0.5</text>
<text x="150.60" y="410.87" font-size="7.98" text-anchor="middle">0</text>
<text x="207.15" y="410.87" font-size="7.98" text-anchor="middle">0.5</text>
<text x="115.40" y="423.58" font-size="8.29" textLength="60.9" lengthAdjust="spacingAndGlyphs">Dependency score</text>
<line x1="346.50" y1="194.60" x2="346.50" y2="286.90" stroke="#000" stroke-width="1.2" />
<line x1="346.00" y1="286.40" x2="467.40" y2="286.40" stroke="#000" stroke-width="1.2" />
<line x1="342.80" y1="286.40" x2="346.50" y2="286.40" stroke="#000" stroke-width="1.0" />
<text x="341.00" y="289.38" font-size="8.29" text-anchor="end">0</text>
<line x1="342.80" y1="243.45" x2="346.50" y2="243.45" stroke="#000" stroke-width="1.0" />
<text x="341.00" y="246.43" font-size="8.29" text-anchor="end">500</text>
<line x1="342.80" y1="200.50" x2="346.50" y2="200.50" stroke="#000" stroke-width="1.0" />
<text x="341.00" y="203.48" font-size="8.29" text-anchor="end">1000</text>
<line x1="346.50" y1="286.40" x2="346.50" y2="289.00" stroke="#000" stroke-width="1.0" />
<text x="346.50" y="298.58" font-size="8.29" text-anchor="middle">0</text>
<line x1="370.84" y1="286.40" x2="370.84" y2="289.00" stroke="#000" stroke-width="1.0" />
<text x="370.84" y="298.58" font-size="8.29" text-anchor="middle">2</text>
<line x1="395.18" y1="286.40" x2="395.18" y2="289.00" stroke="#000" stroke-width="1.0" />
<text x="395.18" y="298.58" font-size="8.29" text-anchor="middle">4</text>
<line x1="431.69" y1="286.40" x2="431.69" y2="289.00" stroke="#000" stroke-width="1.0" />
<text x="431.69" y="298.58" font-size="8.29" text-anchor="middle">7</text>
<line x1="456.03" y1="286.40" x2="456.03" y2="289.00" stroke="#000" stroke-width="1.0" />
<text x="456.03" y="298.58" font-size="8.29" text-anchor="middle">9</text>
<text x="393.50" y="200.28" font-size="8.29" textLength="26.1" lengthAdjust="spacingAndGlyphs">P3HR-1</text>
<text transform="translate(314.40,241.00) rotate(-90)" x="0" y="3.18" font-size="8.82" text-anchor="middle" textLength="72.5" lengthAdjust="spacingAndGlyphs">Fold change live cell #</text>
<line x1="353.10" y1="218.60" x2="365.60" y2="218.60" stroke="#3def1f" stroke-width="1.8" />
<circle cx="359.35" cy="218.60" r="2.30" fill="#3def1f"/>
<text x="367.40" y="221.58" font-size="8.29" textLength="26.0" lengthAdjust="spacingAndGlyphs">Control</text>
<line x1="353.10" y1="230.00" x2="365.60" y2="230.00" stroke="#cc0018" stroke-width="1.8" />
<rect x="357.15" y="227.80" width="4.40" height="4.40" fill="#cc0018"/>
<text x="367.40" y="232.98" font-size="8.29" fill="#cc0018" textLength="45.9" lengthAdjust="spacingAndGlyphs">CYB561A3 #1</text>
<line x1="353.10" y1="240.40" x2="365.60" y2="240.40" stroke="#1438b8" stroke-width="1.8" />
<polygon points="359.35,237.80 361.95,242.35 356.75,242.35" fill="#1438b8"/>
<text x="367.40" y="243.38" font-size="8.29" fill="#1438b8" textLength="45.9" lengthAdjust="spacingAndGlyphs">CYB561A3 #2</text>
<path d="M346.50,286.40 L370.84,286.20 L395.18,285.50 L431.69,279.10 L456.03,268.90" fill="none" stroke="#1438b8" stroke-width="1.9" stroke-linejoin="round"/>
<line x1="456.03" y1="263.70" x2="456.03" y2="272.00" stroke="#1438b8" stroke-width="1.3" />
<line x1="453.43" y1="263.70" x2="458.63" y2="263.70" stroke="#1438b8" stroke-width="1.3" />
<line x1="453.43" y1="272.00" x2="458.63" y2="272.00" stroke="#1438b8" stroke-width="1.3" />
<polygon points="346.50,283.80 349.10,288.35 343.90,288.35" fill="#1438b8"/>
<polygon points="370.84,283.60 373.44,288.15 368.24,288.15" fill="#1438b8"/>
<polygon points="395.18,282.90 397.78,287.45 392.58,287.45" fill="#1438b8"/>
<polygon points="431.69,276.50 434.29,281.05 429.09,281.05" fill="#1438b8"/>
<polygon points="456.03,266.30 458.63,270.85 453.43,270.85" fill="#1438b8"/>
<path d="M346.50,286.40 L370.84,286.30 L395.18,285.90 L431.69,281.30 L456.03,272.50" fill="none" stroke="#cc0018" stroke-width="1.9" stroke-linejoin="round"/>
<line x1="456.03" y1="269.40" x2="456.03" y2="276.00" stroke="#cc0018" stroke-width="1.3" />
<line x1="453.43" y1="269.40" x2="458.63" y2="269.40" stroke="#cc0018" stroke-width="1.3" />
<line x1="453.43" y1="276.00" x2="458.63" y2="276.00" stroke="#cc0018" stroke-width="1.3" />
<rect x="344.30" y="284.20" width="4.40" height="4.40" fill="#cc0018"/>
<rect x="368.64" y="284.10" width="4.40" height="4.40" fill="#cc0018"/>
<rect x="392.98" y="283.70" width="4.40" height="4.40" fill="#cc0018"/>
<rect x="429.49" y="279.10" width="4.40" height="4.40" fill="#cc0018"/>
<rect x="453.83" y="270.30" width="4.40" height="4.40" fill="#cc0018"/>
<path d="M346.50,286.40 L370.84,286.10 L395.18,284.40 L431.69,270.90 L456.03,206.20" fill="none" stroke="#3def1f" stroke-width="1.9" stroke-linejoin="round"/>
<line x1="431.69" y1="268.60" x2="431.69" y2="273.20" stroke="#3def1f" stroke-width="1.3" />
<line x1="429.09" y1="268.60" x2="434.29" y2="268.60" stroke="#3def1f" stroke-width="1.3" />
<line x1="429.09" y1="273.20" x2="434.29" y2="273.20" stroke="#3def1f" stroke-width="1.3" />
<line x1="456.03" y1="195.40" x2="456.03" y2="217.40" stroke="#3def1f" stroke-width="1.3" />
<line x1="453.43" y1="195.40" x2="458.63" y2="195.40" stroke="#3def1f" stroke-width="1.3" />
<line x1="453.43" y1="217.40" x2="458.63" y2="217.40" stroke="#3def1f" stroke-width="1.3" />
<circle cx="346.50" cy="286.40" r="2.30" fill="#3def1f"/>
<circle cx="370.84" cy="286.10" r="2.30" fill="#3def1f"/>
<circle cx="395.18" cy="284.40" r="2.30" fill="#3def1f"/>
<circle cx="431.69" cy="270.90" r="2.30" fill="#3def1f"/>
<circle cx="456.03" cy="206.20" r="2.30" fill="#3def1f"/>
<text x="417.00" y="267.80" font-size="7.6" font-weight="bold" fill="#1438b8" textLength="9.0" lengthAdjust="spacingAndGlyphs">***</text>
<text x="417.00" y="274.30" font-size="7.6" font-weight="bold" fill="#cc0018" textLength="9.0" lengthAdjust="spacingAndGlyphs">***</text>
<text x="461.30" y="269.80" font-size="7.6" font-weight="bold" fill="#1438b8" textLength="6.0" lengthAdjust="spacingAndGlyphs">**</text>
<text x="459.70" y="284.50" font-size="7.6" font-weight="bold" fill="#cc0018" textLength="9.0" lengthAdjust="spacingAndGlyphs">***</text>
<line x1="346.50" y1="304.60" x2="346.50" y2="408.30" stroke="#000" stroke-width="1.2" />
<line x1="346.00" y1="407.80" x2="468.40" y2="407.80" stroke="#000" stroke-width="1.2" />
<line x1="342.80" y1="407.80" x2="346.50" y2="407.80" stroke="#000" stroke-width="1.0" />
<text x="341.60" y="410.78" font-size="8.29" text-anchor="end">0</text>
<line x1="342.80" y1="382.07" x2="346.50" y2="382.07" stroke="#000" stroke-width="1.0" />
<text x="341.60" y="385.05" font-size="8.29" text-anchor="end">100</text>
<line x1="342.80" y1="356.34" x2="346.50" y2="356.34" stroke="#000" stroke-width="1.0" />
<text x="341.60" y="359.32" font-size="8.29" text-anchor="end">200</text>
<line x1="342.80" y1="330.61" x2="346.50" y2="330.61" stroke="#000" stroke-width="1.0" />
<text x="341.60" y="333.59" font-size="8.29" text-anchor="end">300</text>
<line x1="342.80" y1="304.88" x2="346.50" y2="304.88" stroke="#000" stroke-width="1.0" />
<text x="341.60" y="307.86" font-size="8.29" text-anchor="end">400</text>
<line x1="346.50" y1="407.80" x2="346.50" y2="410.40" stroke="#000" stroke-width="1.0" />
<text x="346.50" y="419.88" font-size="8.29" text-anchor="middle">0</text>
<line x1="370.84" y1="407.80" x2="370.84" y2="410.40" stroke="#000" stroke-width="1.0" />
<text x="370.84" y="419.88" font-size="8.29" text-anchor="middle">2</text>
<line x1="395.18" y1="407.80" x2="395.18" y2="410.40" stroke="#000" stroke-width="1.0" />
<text x="395.18" y="419.88" font-size="8.29" text-anchor="middle">4</text>
<line x1="431.69" y1="407.80" x2="431.69" y2="410.40" stroke="#000" stroke-width="1.0" />
<text x="431.69" y="419.88" font-size="8.29" text-anchor="middle">7</text>
<line x1="456.03" y1="407.80" x2="456.03" y2="410.40" stroke="#000" stroke-width="1.0" />
<text x="456.03" y="419.88" font-size="8.29" text-anchor="middle">9</text>
<text x="400.00" y="433.08" font-size="8.82" textLength="15.7" lengthAdjust="spacingAndGlyphs">Days</text>
<text x="390.00" y="311.88" font-size="8.29" textLength="35.0" lengthAdjust="spacingAndGlyphs">GM12878</text>
<text transform="translate(318.70,356.30) rotate(-90)" x="0" y="3.18" font-size="8.82" text-anchor="middle" textLength="72.5" lengthAdjust="spacingAndGlyphs">Fold change live cell #</text>
<line x1="353.10" y1="332.10" x2="365.60" y2="332.10" stroke="#3def1f" stroke-width="1.8" />
<circle cx="359.35" cy="332.10" r="2.30" fill="#3def1f"/>
<text x="367.40" y="335.08" font-size="8.29" textLength="26.0" lengthAdjust="spacingAndGlyphs">Control</text>
<line x1="353.10" y1="342.40" x2="365.60" y2="342.40" stroke="#cc0018" stroke-width="1.8" />
<rect x="357.15" y="340.20" width="4.40" height="4.40" fill="#cc0018"/>
<text x="367.40" y="345.38" font-size="8.29" fill="#cc0018" textLength="45.9" lengthAdjust="spacingAndGlyphs">CYB561A3 #1</text>
<line x1="353.10" y1="352.80" x2="365.60" y2="352.80" stroke="#1438b8" stroke-width="1.8" />
<polygon points="359.35,350.20 361.95,354.75 356.75,354.75" fill="#1438b8"/>
<text x="367.40" y="355.78" font-size="8.29" fill="#1438b8" textLength="45.9" lengthAdjust="spacingAndGlyphs">CYB561A3 #2</text>
<path d="M346.50,407.80 L370.84,407.70 L395.18,407.30 L431.69,398.60 L456.03,348.80" fill="none" stroke="#1438b8" stroke-width="1.9" stroke-linejoin="round"/>
<line x1="456.03" y1="345.40" x2="456.03" y2="356.20" stroke="#1438b8" stroke-width="1.3" />
<line x1="453.43" y1="345.40" x2="458.63" y2="345.40" stroke="#1438b8" stroke-width="1.3" />
<line x1="453.43" y1="356.20" x2="458.63" y2="356.20" stroke="#1438b8" stroke-width="1.3" />
<polygon points="346.50,405.20 349.10,409.75 343.90,409.75" fill="#1438b8"/>
<polygon points="370.84,405.10 373.44,409.65 368.24,409.65" fill="#1438b8"/>
<polygon points="395.18,404.70 397.78,409.25 392.58,409.25" fill="#1438b8"/>
<polygon points="431.69,396.00 434.29,400.55 429.09,400.55" fill="#1438b8"/>
<polygon points="456.03,346.20 458.63,350.75 453.43,350.75" fill="#1438b8"/>
<path d="M346.50,407.80 L370.84,407.70 L395.18,407.20 L431.69,397.90 L456.03,340.80" fill="none" stroke="#cc0018" stroke-width="1.9" stroke-linejoin="round"/>
<line x1="456.03" y1="338.00" x2="456.03" y2="344.00" stroke="#cc0018" stroke-width="1.3" />
<line x1="453.43" y1="338.00" x2="458.63" y2="338.00" stroke="#cc0018" stroke-width="1.3" />
<line x1="453.43" y1="344.00" x2="458.63" y2="344.00" stroke="#cc0018" stroke-width="1.3" />
<rect x="344.30" y="405.60" width="4.40" height="4.40" fill="#cc0018"/>
<rect x="368.64" y="405.50" width="4.40" height="4.40" fill="#cc0018"/>
<rect x="392.98" y="405.00" width="4.40" height="4.40" fill="#cc0018"/>
<rect x="429.49" y="395.70" width="4.40" height="4.40" fill="#cc0018"/>
<rect x="453.83" y="338.60" width="4.40" height="4.40" fill="#cc0018"/>
<path d="M346.50,407.80 L370.84,407.50 L395.18,406.40 L431.69,394.30 L456.03,331.10" fill="none" stroke="#3def1f" stroke-width="1.9" stroke-linejoin="round"/>
<line x1="456.03" y1="314.20" x2="456.03" y2="346.50" stroke="#3def1f" stroke-width="1.3" />
<line x1="453.43" y1="314.20" x2="458.63" y2="314.20" stroke="#3def1f" stroke-width="1.3" />
<line x1="453.43" y1="346.50" x2="458.63" y2="346.50" stroke="#3def1f" stroke-width="1.3" />
<circle cx="346.50" cy="407.80" r="2.30" fill="#3def1f"/>
<circle cx="370.84" cy="407.50" r="2.30" fill="#3def1f"/>
<circle cx="395.18" cy="406.40" r="2.30" fill="#3def1f"/>
<circle cx="431.69" cy="394.30" r="2.30" fill="#3def1f"/>
<circle cx="456.03" cy="331.10" r="2.30" fill="#3def1f"/>
<text x="461.80" y="342.32" font-size="7.56" fill="#cc0018">ns</text>
<text x="461.80" y="349.92" font-size="7.56" fill="#1438b8">ns</text>
<line x1="345.60" y1="446.60" x2="345.60" y2="550.60" stroke="#000" stroke-width="1.2" />
<line x1="345.10" y1="550.00" x2="499.40" y2="550.00" stroke="#000" stroke-width="1.2" />
<line x1="342.00" y1="550.00" x2="345.60" y2="550.00" stroke="#000" stroke-width="1.0" />
<text x="340.20" y="552.98" font-size="8.29" text-anchor="end">0</text>
<line x1="342.00" y1="524.20" x2="345.60" y2="524.20" stroke="#000" stroke-width="1.0" />
<text x="340.20" y="527.18" font-size="8.29" text-anchor="end">10K</text>
<line x1="342.00" y1="498.40" x2="345.60" y2="498.40" stroke="#000" stroke-width="1.0" />
<text x="340.20" y="501.38" font-size="8.29" text-anchor="end">20K</text>
<line x1="342.00" y1="472.60" x2="345.60" y2="472.60" stroke="#000" stroke-width="1.0" />
<text x="340.20" y="475.58" font-size="8.29" text-anchor="end">30K</text>
<line x1="342.00" y1="446.80" x2="345.60" y2="446.80" stroke="#000" stroke-width="1.0" />
<text x="340.20" y="449.78" font-size="8.29" text-anchor="end">40K</text>
<line x1="345.60" y1="550.00" x2="345.60" y2="552.60" stroke="#000" stroke-width="1.0" />
<text x="345.60" y="562.38" font-size="8.29" text-anchor="middle">0</text>
<line x1="366.30" y1="550.00" x2="366.30" y2="552.60" stroke="#000" stroke-width="1.0" />
<text x="366.30" y="562.38" font-size="8.29" text-anchor="middle">2</text>
<line x1="387.00" y1="550.00" x2="387.00" y2="552.60" stroke="#000" stroke-width="1.0" />
<text x="387.00" y="562.38" font-size="8.29" text-anchor="middle">4</text>
<line x1="418.05" y1="550.00" x2="418.05" y2="552.60" stroke="#000" stroke-width="1.0" />
<text x="418.05" y="562.38" font-size="8.29" text-anchor="middle">7</text>
<line x1="438.75" y1="550.00" x2="438.75" y2="552.60" stroke="#000" stroke-width="1.0" />
<text x="438.75" y="562.38" font-size="8.29" text-anchor="middle">9</text>
<line x1="459.45" y1="550.00" x2="459.45" y2="552.60" stroke="#000" stroke-width="1.0" />
<text x="459.45" y="562.38" font-size="8.29" text-anchor="middle">11</text>
<line x1="490.50" y1="550.00" x2="490.50" y2="552.60" stroke="#000" stroke-width="1.0" />
<text x="490.50" y="562.38" font-size="8.29" text-anchor="middle">14</text>
<text x="415.50" y="575.38" font-size="8.82" textLength="15.5" lengthAdjust="spacingAndGlyphs">Days</text>
<text x="393.90" y="450.38" font-size="8.29" textLength="26.1" lengthAdjust="spacingAndGlyphs">P3HR-1</text>
<text transform="translate(314.40,498.50) rotate(-90)" x="0" y="3.18" font-size="8.82" text-anchor="middle" textLength="71.3" lengthAdjust="spacingAndGlyphs">Fold change live cell #</text>
<text x="365.90" y="460.98" font-size="8.29" textLength="19.9" lengthAdjust="spacingAndGlyphs">cDNA</text>
<text x="414.30" y="461.18" font-size="8.29" textLength="23.1" lengthAdjust="spacingAndGlyphs">sgRNA</text>
<line x1="349.40" y1="467.90" x2="361.70" y2="467.90" stroke="#3def1f" stroke-width="1.5" />
<rect x="353.30" y="465.70" width="4.40" height="4.40" fill="#3def1f"/>
<text x="365.90" y="470.88" font-size="8.29" fill="#3def1f" textLength="34.3" lengthAdjust="spacingAndGlyphs">CYB561A3</text>
<text x="400.70" y="467.10" font-size="5.2" fill="#3def1f">R</text>
<text x="414.40" y="470.88" font-size="8.29" fill="#3def1f" textLength="26.0" lengthAdjust="spacingAndGlyphs">Control</text>
<line x1="349.40" y1="478.10" x2="361.70" y2="478.10" stroke="#1030a8" stroke-width="1.5" />
<circle cx="355.50" cy="478.10" r="2.30" fill="#1030a8"/>
<text x="365.90" y="481.08" font-size="8.29" fill="#1030a8" textLength="14.6" lengthAdjust="spacingAndGlyphs">GFP</text>
<text x="414.40" y="481.08" font-size="8.29" fill="#1030a8" textLength="26.0" lengthAdjust="spacingAndGlyphs">Control</text>
<line x1="349.40" y1="486.50" x2="361.70" y2="486.50" stroke="#8a8cf0" stroke-width="1.5" />
<polygon points="355.50,489.10 358.10,484.55 352.90,484.55" fill="#8a8cf0"/>
<text x="365.90" y="489.48" font-size="8.29" fill="#8a8cf0" textLength="34.3" lengthAdjust="spacingAndGlyphs">CYB561A3</text>
<text x="400.70" y="485.70" font-size="5.2" fill="#8a8cf0">R</text>
<text x="414.40" y="489.48" font-size="8.29" fill="#8a8cf0" textLength="34.6" lengthAdjust="spacingAndGlyphs">CYB561A3</text>
<line x1="349.40" y1="496.10" x2="361.70" y2="496.10" stroke="#cc0018" stroke-width="1.5" />
<polygon points="355.50,493.50 358.10,498.05 352.90,498.05" fill="#cc0018"/>
<text x="365.90" y="499.08" font-size="8.29" fill="#cc0018" textLength="14.6" lengthAdjust="spacingAndGlyphs">GFP</text>
<text x="414.40" y="499.08" font-size="8.29" fill="#cc0018" textLength="34.6" lengthAdjust="spacingAndGlyphs">CYB561A3</text>
<path d="M345.60,550.00 L366.30,550.00 L387.00,550.00 L418.05,550.00 L438.75,550.00 L459.45,550.00 L490.50,550.00" fill="none" stroke="#cc0018" stroke-width="1.9" stroke-linejoin="round"/>
<polygon points="345.60,547.40 348.20,551.95 343.00,551.95" fill="#cc0018"/>
<polygon points="366.30,547.40 368.90,551.95 363.70,551.95" fill="#cc0018"/>
<polygon points="387.00,547.40 389.60,551.95 384.40,551.95" fill="#cc0018"/>
<polygon points="418.05,547.40 420.65,551.95 415.45,551.95" fill="#cc0018"/>
<polygon points="438.75,547.40 441.35,551.95 436.15,551.95" fill="#cc0018"/>
<polygon points="459.45,547.40 462.05,551.95 456.85,551.95" fill="#cc0018"/>
<polygon points="490.50,547.40 493.10,551.95 487.90,551.95" fill="#cc0018"/>
<path d="M345.60,550.00 L366.30,549.80 L387.00,549.60 L418.05,549.00 L438.75,548.40 L459.45,543.80 L490.50,506.50" fill="none" stroke="#8a8cf0" stroke-width="1.9" stroke-linejoin="round"/>
<line x1="490.50" y1="503.40" x2="490.50" y2="510.30" stroke="#8a8cf0" stroke-width="1.3" />
<line x1="487.90" y1="503.40" x2="493.10" y2="503.40" stroke="#8a8cf0" stroke-width="1.3" />
<line x1="487.90" y1="510.30" x2="493.10" y2="510.30" stroke="#8a8cf0" stroke-width="1.3" />
<polygon points="345.60,552.60 348.20,548.05 343.00,548.05" fill="#8a8cf0"/>
<polygon points="366.30,552.40 368.90,547.85 363.70,547.85" fill="#8a8cf0"/>
<polygon points="387.00,552.20 389.60,547.65 384.40,547.65" fill="#8a8cf0"/>
<polygon points="418.05,551.60 420.65,547.05 415.45,547.05" fill="#8a8cf0"/>
<polygon points="438.75,551.00 441.35,546.45 436.15,546.45" fill="#8a8cf0"/>
<polygon points="459.45,546.40 462.05,541.85 456.85,541.85" fill="#8a8cf0"/>
<polygon points="490.50,509.10 493.10,504.55 487.90,504.55" fill="#8a8cf0"/>
<path d="M345.60,550.00 L366.30,549.80 L387.00,549.60 L418.05,548.80 L438.75,547.60 L459.45,539.30 L490.50,476.90" fill="none" stroke="#3def1f" stroke-width="1.9" stroke-linejoin="round"/>
<line x1="490.50" y1="468.90" x2="490.50" y2="485.00" stroke="#3def1f" stroke-width="1.3" />
<line x1="487.90" y1="468.90" x2="493.10" y2="468.90" stroke="#3def1f" stroke-width="1.3" />
<line x1="487.90" y1="485.00" x2="493.10" y2="485.00" stroke="#3def1f" stroke-width="1.3" />
<rect x="343.40" y="547.80" width="4.40" height="4.40" fill="#3def1f"/>
<rect x="364.10" y="547.60" width="4.40" height="4.40" fill="#3def1f"/>
<rect x="384.80" y="547.40" width="4.40" height="4.40" fill="#3def1f"/>
<rect x="415.85" y="546.60" width="4.40" height="4.40" fill="#3def1f"/>
<rect x="436.55" y="545.40" width="4.40" height="4.40" fill="#3def1f"/>
<rect x="457.25" y="537.10" width="4.40" height="4.40" fill="#3def1f"/>
<rect x="488.30" y="474.70" width="4.40" height="4.40" fill="#3def1f"/>
<path d="M345.60,550.00 L366.30,550.00 L387.00,549.80 L418.05,549.40 L438.75,548.90 L459.45,544.20 L490.50,496.00" fill="none" stroke="#1030a8" stroke-width="1.9" stroke-linejoin="round"/>
<line x1="490.50" y1="491.70" x2="490.50" y2="500.20" stroke="#1030a8" stroke-width="1.3" />
<line x1="487.90" y1="491.70" x2="493.10" y2="491.70" stroke="#1030a8" stroke-width="1.3" />
<line x1="487.90" y1="500.20" x2="493.10" y2="500.20" stroke="#1030a8" stroke-width="1.3" />
<circle cx="345.60" cy="550.00" r="2.30" fill="#1030a8"/>
<circle cx="366.30" cy="550.00" r="2.30" fill="#1030a8"/>
<circle cx="387.00" cy="549.80" r="2.30" fill="#1030a8"/>
<circle cx="418.05" cy="549.40" r="2.30" fill="#1030a8"/>
<circle cx="438.75" cy="548.90" r="2.30" fill="#1030a8"/>
<circle cx="459.45" cy="544.20" r="2.30" fill="#1030a8"/>
<circle cx="490.50" cy="496.00" r="2.30" fill="#1030a8"/>
<text x="463.50" y="550.10" font-size="7.6" font-weight="bold" fill="#cc0018" textLength="9.0" lengthAdjust="spacingAndGlyphs">***</text>
<text x="490.50" y="548.40" font-size="7.6" font-weight="bold" fill="#cc0018" textLength="9.0" lengthAdjust="spacingAndGlyphs">***</text>
<text x="494.10" y="509.72" font-size="7.56" fill="#8a8cf0">ns</text>
<text x="468.10" y="539.92" font-size="7.56" fill="#8a8cf0">ns</text>
<line x1="56.05" y1="475.38" x2="56.05" y2="466.27" stroke="#000" stroke-width="1.1" />
<line x1="51.45" y1="466.27" x2="60.65" y2="466.27" stroke="#000" stroke-width="1.1" />
<rect x="45.50" y="475.38" width="21.10" height="63.12" fill="#cc0018" stroke="#000" stroke-width="1.1" />
<line x1="56.05" y1="538.50" x2="56.05" y2="541.10" stroke="#000" stroke-width="1.0" />
<line x1="85.25" y1="528.50" x2="85.25" y2="526.39" stroke="#000" stroke-width="1.1" />
<line x1="80.65" y1="526.39" x2="89.85" y2="526.39" stroke="#000" stroke-width="1.1" />
<rect x="74.90" y="528.50" width="20.70" height="10.00" fill="#1438b8" stroke="#000" stroke-width="1.1" />
<line x1="85.25" y1="538.50" x2="85.25" y2="541.10" stroke="#000" stroke-width="1.0" />
<line x1="114.05" y1="526.39" x2="114.05" y2="524.50" stroke="#000" stroke-width="1.1" />
<line x1="109.45" y1="524.50" x2="118.65" y2="524.50" stroke="#000" stroke-width="1.1" />
<rect x="103.70" y="526.39" width="20.70" height="12.11" fill="#33f010" stroke="#000" stroke-width="1.1" />
<line x1="114.05" y1="538.50" x2="114.05" y2="541.10" stroke="#000" stroke-width="1.0" />
<line x1="36.90" y1="449.00" x2="36.90" y2="539.10" stroke="#000" stroke-width="1.2" />
<line x1="36.30" y1="538.50" x2="133.30" y2="538.50" stroke="#000" stroke-width="1.2" />
<line x1="33.50" y1="538.50" x2="36.90" y2="538.50" stroke="#000" stroke-width="1.0" />
<text x="30.60" y="541.48" font-size="8.29" text-anchor="end">0</text>
<line x1="33.50" y1="516.27" x2="36.90" y2="516.27" stroke="#000" stroke-width="1.0" />
<text x="30.60" y="519.26" font-size="8.29" text-anchor="end">10</text>
<line x1="33.50" y1="494.05" x2="36.90" y2="494.05" stroke="#000" stroke-width="1.0" />
<text x="30.60" y="497.03" font-size="8.29" text-anchor="end">20</text>
<line x1="33.50" y1="471.83" x2="36.90" y2="471.83" stroke="#000" stroke-width="1.0" />
<text x="30.60" y="474.81" font-size="8.29" text-anchor="end">30</text>
<line x1="33.50" y1="449.60" x2="36.90" y2="449.60" stroke="#000" stroke-width="1.0" />
<text x="30.60" y="452.58" font-size="8.29" text-anchor="end">40</text>
<text x="61.40" y="447.18" font-size="8.29" textLength="47.6" lengthAdjust="spacingAndGlyphs">Mutu I Burkitt</text>
<text x="80.60" y="526.90" font-size="7.6" font-weight="bold" fill="#2050e0" textLength="9.0" lengthAdjust="spacingAndGlyphs">***</text>
<text x="109.60" y="524.80" font-size="7.6" font-weight="bold" fill="#33f010" textLength="9.0" lengthAdjust="spacingAndGlyphs">***</text>
<text x="10.80" y="552.18" font-size="8.29" textLength="25.5" lengthAdjust="spacingAndGlyphs">sgRNA:</text>
<text x="56.20" y="552.18" font-size="8.29" text-anchor="middle" textLength="26.5" lengthAdjust="spacingAndGlyphs">Control</text>
<text x="85.00" y="552.18" font-size="8.29" text-anchor="middle" textLength="8.0" lengthAdjust="spacingAndGlyphs">#1</text>
<text x="114.00" y="552.18" font-size="8.29" text-anchor="middle" textLength="8.6" lengthAdjust="spacingAndGlyphs">#2</text>
<line x1="82.10" y1="555.30" x2="121.20" y2="555.30" stroke="#000" stroke-width="1.1" />
<text x="82.70" y="564.78" font-size="8.29" textLength="38.5" lengthAdjust="spacingAndGlyphs">CYB561A3</text>
<text transform="translate(12.20,494.70) rotate(-90)" x="0" y="3.18" font-size="8.82" text-anchor="middle" textLength="72.4" lengthAdjust="spacingAndGlyphs">Fold change live cell #</text>
<line x1="188.30" y1="475.94" x2="188.30" y2="469.00" stroke="#000" stroke-width="1.1" />
<line x1="183.70" y1="469.00" x2="192.90" y2="469.00" stroke="#000" stroke-width="1.1" />
<rect x="177.90" y="475.94" width="20.80" height="63.86" fill="#cc0018" stroke="#000" stroke-width="1.1" />
<line x1="188.30" y1="539.80" x2="188.30" y2="542.40" stroke="#000" stroke-width="1.0" />
<line x1="215.00" y1="482.60" x2="215.00" y2="474.83" stroke="#000" stroke-width="1.1" />
<line x1="210.40" y1="474.83" x2="219.60" y2="474.83" stroke="#000" stroke-width="1.1" />
<rect x="204.60" y="482.60" width="20.80" height="57.20" fill="#1438b8" stroke="#000" stroke-width="1.1" />
<line x1="215.00" y1="539.80" x2="215.00" y2="542.40" stroke="#000" stroke-width="1.0" />
<line x1="241.75" y1="486.21" x2="241.75" y2="478.44" stroke="#000" stroke-width="1.1" />
<line x1="237.15" y1="478.44" x2="246.35" y2="478.44" stroke="#000" stroke-width="1.1" />
<rect x="231.50" y="486.21" width="20.50" height="53.59" fill="#33f010" stroke="#000" stroke-width="1.1" />
<line x1="241.75" y1="539.80" x2="241.75" y2="542.40" stroke="#000" stroke-width="1.0" />
<line x1="169.50" y1="455.90" x2="169.50" y2="540.40" stroke="#000" stroke-width="1.2" />
<line x1="168.90" y1="539.80" x2="259.00" y2="539.80" stroke="#000" stroke-width="1.2" />
<line x1="166.10" y1="539.80" x2="169.50" y2="539.80" stroke="#000" stroke-width="1.0" />
<text x="162.70" y="542.78" font-size="8.29" text-anchor="end">0</text>
<line x1="166.10" y1="512.03" x2="169.50" y2="512.03" stroke="#000" stroke-width="1.0" />
<text x="162.70" y="515.02" font-size="8.29" text-anchor="end">10</text>
<line x1="166.10" y1="484.27" x2="169.50" y2="484.27" stroke="#000" stroke-width="1.0" />
<text x="162.70" y="487.25" font-size="8.29" text-anchor="end">20</text>
<line x1="166.10" y1="456.50" x2="169.50" y2="456.50" stroke="#000" stroke-width="1.0" />
<text x="162.70" y="459.48" font-size="8.29" text-anchor="end">30</text>
<text x="191.20" y="448.58" font-size="8.29" textLength="53.0" lengthAdjust="spacingAndGlyphs">Mutu III Burkitt</text>
<line x1="183.70" y1="463.00" x2="241.50" y2="463.00" stroke="#000" stroke-width="1.0" />
<line x1="183.70" y1="466.30" x2="216.70" y2="466.30" stroke="#000" stroke-width="1.0" />
<text x="212.20" y="461.72" font-size="7.56" text-anchor="middle">ns</text>
<text x="187.30" y="552.78" font-size="8.29" text-anchor="middle" textLength="25.8" lengthAdjust="spacingAndGlyphs">Control</text>
<text x="214.20" y="552.78" font-size="8.29" text-anchor="middle" textLength="8.0" lengthAdjust="spacingAndGlyphs">#1</text>
<text x="241.80" y="552.78" font-size="8.29" text-anchor="middle" textLength="8.6" lengthAdjust="spacingAndGlyphs">#2</text>
<line x1="210.10" y1="555.70" x2="248.40" y2="555.70" stroke="#000" stroke-width="1.1" />
<text x="210.80" y="565.08" font-size="8.29" textLength="37.6" lengthAdjust="spacingAndGlyphs">CYB561A3</text>
<line x1="56.05" y1="622.32" x2="56.05" y2="614.46" stroke="#000" stroke-width="1.1" />
<line x1="51.45" y1="614.46" x2="60.65" y2="614.46" stroke="#000" stroke-width="1.1" />
<rect x="45.50" y="622.32" width="21.10" height="54.88" fill="#cc0018" stroke="#000" stroke-width="1.1" />
<line x1="56.05" y1="677.20" x2="56.05" y2="679.80" stroke="#000" stroke-width="1.0" />
<line x1="84.85" y1="667.01" x2="84.85" y2="663.88" stroke="#000" stroke-width="1.1" />
<line x1="80.25" y1="663.88" x2="89.45" y2="663.88" stroke="#000" stroke-width="1.1" />
<rect x="74.90" y="667.01" width="19.90" height="10.19" fill="#1438b8" stroke="#000" stroke-width="1.1" />
<line x1="84.85" y1="677.20" x2="84.85" y2="679.80" stroke="#000" stroke-width="1.0" />
<line x1="113.80" y1="663.88" x2="113.80" y2="663.08" stroke="#000" stroke-width="1.1" />
<line x1="109.20" y1="663.08" x2="118.40" y2="663.08" stroke="#000" stroke-width="1.1" />
<rect x="103.70" y="663.88" width="20.20" height="13.32" fill="#33f010" stroke="#000" stroke-width="1.1" />
<line x1="113.80" y1="677.20" x2="113.80" y2="679.80" stroke="#000" stroke-width="1.0" />
<line x1="36.60" y1="595.90" x2="36.60" y2="677.80" stroke="#000" stroke-width="1.2" />
<line x1="36.00" y1="677.20" x2="131.40" y2="677.20" stroke="#000" stroke-width="1.2" />
<line x1="33.20" y1="677.20" x2="36.60" y2="677.20" stroke="#000" stroke-width="1.0" />
<text x="30.60" y="680.18" font-size="8.29" text-anchor="end">0</text>
<line x1="33.20" y1="657.03" x2="36.60" y2="657.03" stroke="#000" stroke-width="1.0" />
<text x="30.60" y="660.01" font-size="8.29" text-anchor="end">10</text>
<line x1="33.20" y1="636.85" x2="36.60" y2="636.85" stroke="#000" stroke-width="1.0" />
<text x="30.60" y="639.83" font-size="8.29" text-anchor="end">20</text>
<line x1="33.20" y1="616.68" x2="36.60" y2="616.68" stroke="#000" stroke-width="1.0" />
<text x="30.60" y="619.66" font-size="8.29" text-anchor="end">30</text>
<line x1="33.20" y1="596.50" x2="36.60" y2="596.50" stroke="#000" stroke-width="1.0" />
<text x="30.60" y="599.48" font-size="8.29" text-anchor="end">40</text>
<text x="62.50" y="591.28" font-size="8.29" textLength="45.7" lengthAdjust="spacingAndGlyphs">Kem I Burkitt</text>
<text x="80.40" y="663.40" font-size="7.6" font-weight="bold" fill="#2050e0" textLength="9.0" lengthAdjust="spacingAndGlyphs">***</text>
<text x="109.40" y="662.80" font-size="7.6" font-weight="bold" fill="#33f010" textLength="9.0" lengthAdjust="spacingAndGlyphs">***</text>
<text x="10.20" y="690.08" font-size="8.29" textLength="26.1" lengthAdjust="spacingAndGlyphs">sgRNA:</text>
<text x="56.20" y="690.08" font-size="8.29" text-anchor="middle" textLength="26.5" lengthAdjust="spacingAndGlyphs">Control</text>
<text x="84.80" y="690.08" font-size="8.29" text-anchor="middle" textLength="8.0" lengthAdjust="spacingAndGlyphs">#1</text>
<text x="113.90" y="690.08" font-size="8.29" text-anchor="middle" textLength="8.6" lengthAdjust="spacingAndGlyphs">#2</text>
<line x1="82.10" y1="693.30" x2="121.20" y2="693.30" stroke="#000" stroke-width="1.1" />
<text x="82.70" y="702.78" font-size="8.29" textLength="38.5" lengthAdjust="spacingAndGlyphs">CYB561A3</text>
<text transform="translate(12.20,637.20) rotate(-90)" x="0" y="3.18" font-size="8.82" text-anchor="middle" textLength="72.4" lengthAdjust="spacingAndGlyphs">Fold change live cell #</text>
<line x1="188.15" y1="615.21" x2="188.15" y2="613.27" stroke="#000" stroke-width="1.1" />
<line x1="183.55" y1="613.27" x2="192.75" y2="613.27" stroke="#000" stroke-width="1.1" />
<rect x="177.90" y="615.21" width="20.50" height="61.89" fill="#cc0018" stroke="#000" stroke-width="1.1" />
<line x1="188.15" y1="677.10" x2="188.15" y2="679.70" stroke="#000" stroke-width="1.0" />
<line x1="215.25" y1="613.27" x2="215.25" y2="611.65" stroke="#000" stroke-width="1.1" />
<line x1="210.65" y1="611.65" x2="219.85" y2="611.65" stroke="#000" stroke-width="1.1" />
<rect x="204.90" y="613.27" width="20.70" height="63.83" fill="#1438b8" stroke="#000" stroke-width="1.1" />
<line x1="215.25" y1="677.10" x2="215.25" y2="679.70" stroke="#000" stroke-width="1.0" />
<line x1="242.75" y1="614.40" x2="242.75" y2="608.50" stroke="#000" stroke-width="1.1" />
<line x1="238.15" y1="608.50" x2="247.35" y2="608.50" stroke="#000" stroke-width="1.1" />
<rect x="232.40" y="614.40" width="20.70" height="62.70" fill="#33f010" stroke="#000" stroke-width="1.1" />
<line x1="242.75" y1="677.10" x2="242.75" y2="679.70" stroke="#000" stroke-width="1.0" />
<line x1="169.50" y1="595.70" x2="169.50" y2="677.70" stroke="#000" stroke-width="1.2" />
<line x1="168.90" y1="677.10" x2="259.80" y2="677.10" stroke="#000" stroke-width="1.2" />
<line x1="166.10" y1="677.10" x2="169.50" y2="677.10" stroke="#000" stroke-width="1.0" />
<text x="162.70" y="680.08" font-size="8.29" text-anchor="end">0</text>
<line x1="166.10" y1="660.94" x2="169.50" y2="660.94" stroke="#000" stroke-width="1.0" />
<text x="162.70" y="663.92" font-size="8.29" text-anchor="end">20</text>
<line x1="166.10" y1="644.78" x2="169.50" y2="644.78" stroke="#000" stroke-width="1.0" />
<text x="162.70" y="647.76" font-size="8.29" text-anchor="end">40</text>
<line x1="166.10" y1="628.62" x2="169.50" y2="628.62" stroke="#000" stroke-width="1.0" />
<text x="162.70" y="631.60" font-size="8.29" text-anchor="end">60</text>
<line x1="166.10" y1="612.46" x2="169.50" y2="612.46" stroke="#000" stroke-width="1.0" />
<text x="162.70" y="615.44" font-size="8.29" text-anchor="end">80</text>
<line x1="166.10" y1="596.30" x2="169.50" y2="596.30" stroke="#000" stroke-width="1.0" />
<text x="162.70" y="599.28" font-size="8.29" text-anchor="end">100</text>
<text x="195.20" y="591.28" font-size="8.29" textLength="40.4" lengthAdjust="spacingAndGlyphs">Kem III LCL</text>
<line x1="183.90" y1="603.60" x2="241.50" y2="603.60" stroke="#000" stroke-width="1.0" />
<line x1="183.90" y1="607.70" x2="216.70" y2="607.70" stroke="#000" stroke-width="1.0" />
<text x="212.20" y="602.72" font-size="7.56" text-anchor="middle">ns</text>
<text x="187.70" y="690.08" font-size="8.29" text-anchor="middle" textLength="25.8" lengthAdjust="spacingAndGlyphs">Control</text>
<text x="214.60" y="690.08" font-size="8.29" text-anchor="middle" textLength="8.0" lengthAdjust="spacingAndGlyphs">#1</text>
<text x="242.30" y="690.08" font-size="8.29" text-anchor="middle" textLength="8.6" lengthAdjust="spacingAndGlyphs">#2</text>
<line x1="210.50" y1="693.30" x2="249.00" y2="693.30" stroke="#000" stroke-width="1.1" />
<text x="211.20" y="702.98" font-size="8.29" textLength="37.6" lengthAdjust="spacingAndGlyphs">CYB561A3</text>
<line x1="364.30" y1="639.98" x2="364.30" y2="626.16" stroke="#000" stroke-width="1.1" />
<line x1="359.70" y1="626.16" x2="368.90" y2="626.16" stroke="#000" stroke-width="1.1" />
<rect x="355.30" y="639.98" width="18.00" height="48.62" fill="#cc0018" stroke="#000" stroke-width="1.1" />
<line x1="364.30" y1="688.60" x2="364.30" y2="691.20" stroke="#000" stroke-width="1.0" />
<line x1="390.65" y1="678.84" x2="390.65" y2="675.59" stroke="#000" stroke-width="1.1" />
<line x1="386.05" y1="675.59" x2="395.25" y2="675.59" stroke="#000" stroke-width="1.1" />
<rect x="381.80" y="678.84" width="17.70" height="9.76" fill="#1438b8" stroke="#000" stroke-width="1.1" />
<line x1="390.65" y1="688.60" x2="390.65" y2="691.20" stroke="#000" stroke-width="1.0" />
<line x1="347.00" y1="606.70" x2="347.00" y2="689.20" stroke="#000" stroke-width="1.2" />
<line x1="346.40" y1="688.60" x2="407.50" y2="688.60" stroke="#000" stroke-width="1.2" />
<line x1="343.60" y1="688.60" x2="347.00" y2="688.60" stroke="#000" stroke-width="1.0" />
<text x="340.60" y="691.58" font-size="8.29" text-anchor="end">0</text>
<line x1="343.60" y1="672.34" x2="347.00" y2="672.34" stroke="#000" stroke-width="1.0" />
<text x="340.60" y="675.32" font-size="8.29" text-anchor="end">10</text>
<line x1="343.60" y1="656.08" x2="347.00" y2="656.08" stroke="#000" stroke-width="1.0" />
<text x="340.60" y="659.06" font-size="8.29" text-anchor="end">20</text>
<line x1="343.60" y1="639.82" x2="347.00" y2="639.82" stroke="#000" stroke-width="1.0" />
<text x="340.60" y="642.80" font-size="8.29" text-anchor="end">30</text>
<line x1="343.60" y1="623.56" x2="347.00" y2="623.56" stroke="#000" stroke-width="1.0" />
<text x="340.60" y="626.54" font-size="8.29" text-anchor="end">40</text>
<line x1="343.60" y1="607.30" x2="347.00" y2="607.30" stroke="#000" stroke-width="1.0" />
<text x="340.60" y="610.28" font-size="8.29" text-anchor="end">50</text>
<text x="354.50" y="590.98" font-size="8.29" textLength="46.0" lengthAdjust="spacingAndGlyphs">Akata Burkitt</text>
<text x="377.20" y="599.98" font-size="8.29" text-anchor="middle" textLength="18.0" lengthAdjust="spacingAndGlyphs">EBV+</text>
<text x="390.6" y="674.6" font-size="7.6" text-anchor="middle" fill="#1a1a1a">*</text>
<text x="320.00" y="701.78" font-size="8.29" textLength="27.0" lengthAdjust="spacingAndGlyphs">sgRNA:</text>
<text x="351.30" y="701.78" font-size="8.29" textLength="26.2" lengthAdjust="spacingAndGlyphs">Control</text>
<text x="383.80" y="701.78" font-size="8.29" textLength="38.2" lengthAdjust="spacingAndGlyphs">CYB561A3</text>
<text transform="translate(322.90,648.00) rotate(-90)" x="0" y="3.18" font-size="8.82" text-anchor="middle" textLength="72.3" lengthAdjust="spacingAndGlyphs">Fold change live cell #</text>
<line x1="460.60" y1="633.67" x2="460.60" y2="626.73" stroke="#000" stroke-width="1.1" />
<line x1="456.00" y1="626.73" x2="465.20" y2="626.73" stroke="#000" stroke-width="1.1" />
<rect x="451.50" y="633.67" width="18.20" height="55.23" fill="#cc0018" stroke="#000" stroke-width="1.1" />
<line x1="460.60" y1="688.90" x2="460.60" y2="691.50" stroke="#000" stroke-width="1.0" />
<line x1="486.80" y1="672.23" x2="486.80" y2="669.78" stroke="#000" stroke-width="1.1" />
<line x1="482.20" y1="669.78" x2="491.40" y2="669.78" stroke="#000" stroke-width="1.1" />
<rect x="477.80" y="672.23" width="18.00" height="16.67" fill="#1438b8" stroke="#000" stroke-width="1.1" />
<line x1="486.80" y1="688.90" x2="486.80" y2="691.50" stroke="#000" stroke-width="1.0" />
<line x1="442.90" y1="606.60" x2="442.90" y2="689.50" stroke="#000" stroke-width="1.2" />
<line x1="442.30" y1="688.90" x2="503.20" y2="688.90" stroke="#000" stroke-width="1.2" />
<line x1="439.50" y1="688.90" x2="442.90" y2="688.90" stroke="#000" stroke-width="1.0" />
<text x="437.10" y="691.88" font-size="8.29" text-anchor="end">0</text>
<line x1="439.50" y1="672.56" x2="442.90" y2="672.56" stroke="#000" stroke-width="1.0" />
<text x="437.10" y="675.54" font-size="8.29" text-anchor="end">20</text>
<line x1="439.50" y1="656.22" x2="442.90" y2="656.22" stroke="#000" stroke-width="1.0" />
<text x="437.10" y="659.20" font-size="8.29" text-anchor="end">40</text>
<line x1="439.50" y1="639.88" x2="442.90" y2="639.88" stroke="#000" stroke-width="1.0" />
<text x="437.10" y="642.86" font-size="8.29" text-anchor="end">60</text>
<line x1="439.50" y1="623.54" x2="442.90" y2="623.54" stroke="#000" stroke-width="1.0" />
<text x="437.10" y="626.52" font-size="8.29" text-anchor="end">80</text>
<line x1="439.50" y1="607.20" x2="442.90" y2="607.20" stroke="#000" stroke-width="1.0" />
<text x="437.10" y="610.18" font-size="8.29" text-anchor="end">100</text>
<text x="450.80" y="590.28" font-size="8.29" textLength="45.7" lengthAdjust="spacingAndGlyphs">Akata Burkitt</text>
<text x="473.00" y="599.78" font-size="8.29" text-anchor="middle" textLength="16.1" lengthAdjust="spacingAndGlyphs">EBV−</text>
<text x="486.8" y="669.0" font-size="7.6" text-anchor="middle" fill="#1a1a1a">***</text>
<text x="441.50" y="700.98" font-size="8.29" textLength="26.1" lengthAdjust="spacingAndGlyphs">Control</text>
<text x="473.90" y="700.98" font-size="8.29" textLength="38.1" lengthAdjust="spacingAndGlyphs">CYB561A3</text>
</svg>
</body></html>
